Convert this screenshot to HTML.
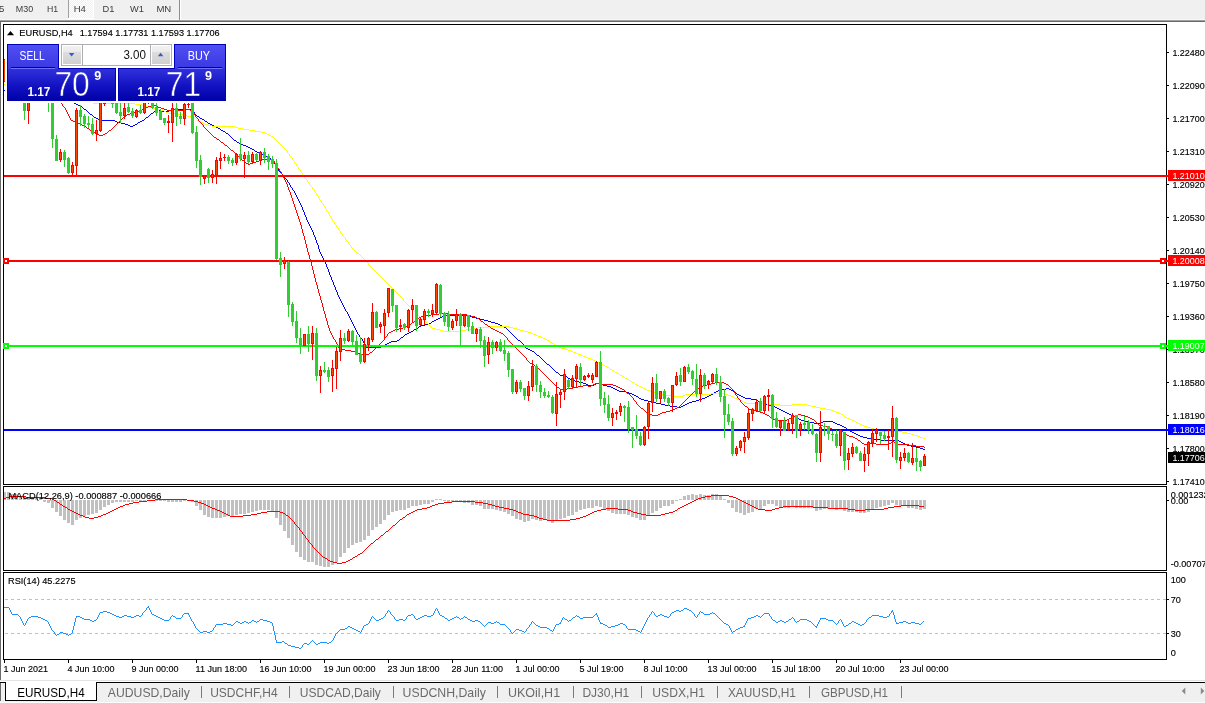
<!DOCTYPE html>
<html><head><meta charset="utf-8"><title>EURUSD,H4</title>
<style>html,body{margin:0;padding:0;background:#fff;overflow:hidden}body{width:1205px;height:703px}svg{display:block;font-family:"Liberation Sans",sans-serif}.cr{shape-rendering:crispEdges}</style></head><body>
<svg width="1205" height="703" viewBox="0 0 1205 703">
<defs><linearGradient id="gp" gradientUnits="userSpaceOnUse" x1="0" y1="68" x2="0" y2="101"><stop offset="0" stop-color="#3232dc"/><stop offset="0.55" stop-color="#1212c2"/><stop offset="1" stop-color="#0000a6"/></linearGradient><linearGradient id="gt" x1="0" y1="0" x2="0" y2="1"><stop offset="0" stop-color="#5050f4"/><stop offset="1" stop-color="#3a38e2"/></linearGradient><linearGradient id="gb" x1="0" y1="0" x2="0" y2="1"><stop offset="0" stop-color="#f2f2f2"/><stop offset="0.3" stop-color="#ebebeb"/><stop offset="0.34" stop-color="#dddddd"/><stop offset="1" stop-color="#d0d0d0"/></linearGradient><pattern id="hatch" width="2" height="2" patternUnits="userSpaceOnUse"><rect width="2" height="2" fill="#f0f0f0"/><rect width="1" height="1" fill="#fff"/><rect x="1" y="1" width="1" height="1" fill="#fff"/></pattern><clipPath id="cm"><rect x="3" y="25" width="1165" height="459"/></clipPath><clipPath id="cma"><rect x="4" y="25" width="1162" height="459"/></clipPath><clipPath id="cd"><rect x="4" y="487" width="1162" height="83"/></clipPath><clipPath id="cs"><rect x="4" y="573" width="1162" height="86"/></clipPath></defs>
<rect x="0" y="0" width="1205" height="703" fill="#ffffff"/>
<g class="cr">
<rect x="0" y="0" width="1205" height="19" fill="#f0f0f0"/>
<rect x="0" y="19" width="1205" height="1" fill="#f8f8f8"/>
<rect x="0" y="20" width="1205" height="1" fill="#a0a0a0"/>
<rect x="0" y="21" width="1205" height="1" fill="#696969"/>
<rect x="69" y="0" width="24" height="18" fill="url(#hatch)"/>
<rect x="68" y="0" width="1" height="18" fill="#a0a0a0"/>
<rect x="93" y="0" width="1" height="19" fill="#ffffff"/>
<rect x="68" y="18" width="26" height="1" fill="#ffffff"/>
<rect x="179" y="0" width="1" height="20" fill="#8f8f8f"/>
<rect x="180" y="0" width="1" height="20" fill="#ffffff"/>
</g>
<text x="-1" y="12" font-size="9.6" fill="#3c3c3c">5</text>
<text x="15.8" y="12" font-size="9.6" fill="#3c3c3c" textLength="17.4" lengthAdjust="spacingAndGlyphs">M30</text>
<text x="46.9" y="12" font-size="9.6" fill="#3c3c3c" textLength="11.2" lengthAdjust="spacingAndGlyphs">H1</text>
<text x="73.7" y="12" font-size="9.6" fill="#3c3c3c" textLength="12.2" lengthAdjust="spacingAndGlyphs">H4</text>
<text x="102.6" y="12" font-size="9.6" fill="#3c3c3c" textLength="11.9" lengthAdjust="spacingAndGlyphs">D1</text>
<text x="129.9" y="12" font-size="9.6" fill="#3c3c3c" textLength="13.9" lengthAdjust="spacingAndGlyphs">W1</text>
<text x="156.4" y="12" font-size="9.6" fill="#3c3c3c" textLength="14.9" lengthAdjust="spacingAndGlyphs">MN</text>
<g class="cr">
<rect x="0" y="21" width="1" height="660" fill="#696969"/>
<rect x="3" y="24" width="1164" height="1" fill="#000"/>
<rect x="3" y="484" width="1164" height="1" fill="#000"/>
<rect x="3" y="24" width="1" height="461" fill="#000"/>
<rect x="3" y="486" width="1164" height="1" fill="#000"/>
<rect x="3" y="570" width="1164" height="1" fill="#000"/>
<rect x="3" y="486" width="1" height="85" fill="#000"/>
<rect x="3" y="572" width="1164" height="1" fill="#000"/>
<rect x="3" y="659" width="1164" height="1" fill="#000"/>
<rect x="3" y="572" width="1" height="88" fill="#000"/>
<rect x="1166" y="24" width="1" height="461" fill="#000"/>
<rect x="1166" y="486" width="1" height="85" fill="#000"/>
<rect x="1166" y="572" width="1" height="88" fill="#000"/>
</g>
<g class="cr" clip-path="url(#cma)">
<path d="M36 84.5h6M26 85.5h10M42 85.5h2M19 86.5h7M44 86.5h3M15 87.5h4M47 87.5h2M11 88.5h4M49 88.5h3M7 89.5h4M52 89.5h2M4 90.5h3M54 90.5h3M57 91.5h2M59 92.5h2M61 93.5h1M62 94.5h2M64 95.5h1M65 96.5h1M66 97.5h2M68 98.5h1M69 99.5h1M70 100.5h1M71 101.5h2M73 102.5h1M74 103.5h2M76 104.5h2M78 105.5h2M80 106.5h2M82 107.5h1M83 108.5h1M84 109.5h2M157 109.5h2M171 109.5h20M86 110.5h1M155 110.5h2M159 110.5h2M169 110.5h2M191 110.5h2M87 111.5h1M154 111.5h1M161 111.5h8M193 111.5h1M88 112.5h1M153 112.5h1M194 112.5h1M89 113.5h1M151 113.5h2M194 113.5h1M90 114.5h2M150 114.5h1M195 114.5h1M92 115.5h1M149 115.5h1M196 115.5h1M93 116.5h1M148 116.5h1M197 116.5h2M94 117.5h2M146 117.5h2M199 117.5h1M96 118.5h2M145 118.5h1M200 118.5h2M98 119.5h4M144 119.5h1M202 119.5h2M102 120.5h13M142 120.5h2M204 120.5h1M115 121.5h2M140 121.5h2M205 121.5h2M117 122.5h4M138 122.5h2M207 122.5h1M121 123.5h4M137 123.5h1M208 123.5h2M125 124.5h3M135 124.5h2M210 124.5h2M128 125.5h2M133 125.5h2M212 125.5h2M130 126.5h3M214 126.5h2M216 127.5h2M218 128.5h2M220 129.5h1M221 130.5h2M223 131.5h2M225 132.5h1M226 133.5h2M228 134.5h1M229 135.5h1M230 136.5h1M231 137.5h1M232 138.5h1M233 139.5h1M234 140.5h2M236 141.5h1M237 142.5h2M239 143.5h2M241 144.5h2M243 145.5h3M246 146.5h2M248 147.5h2M250 148.5h2M252 149.5h2M254 150.5h1M255 151.5h2M257 152.5h2M259 153.5h2M261 154.5h2M263 155.5h3M266 156.5h2M268 157.5h2M270 158.5h1M271 159.5h1M271 160.5h1M272 161.5h1M273 162.5h1M274 163.5h1M275 164.5h1M275 165.5h1M276 166.5h1M276 167.5h1M277 168.5h1M278 169.5h1M278 170.5h1M279 171.5h1M280 172.5h1M281 173.5h1M282 174.5h1M282 175.5h1M283 176.5h1M284 177.5h1M285 178.5h1M286 179.5h1M287 180.5h1M287 181.5h1M288 182.5h1M289 183.5h1M289 184.5h1M290 185.5h1M290 186.5h1M291 187.5h1M292 188.5h1M292 189.5h1M293 190.5h1M294 191.5h1M294 192.5h1M295 193.5h1M295 194.5h1M296 195.5h1M296 196.5h1M297 197.5h1M297 198.5h1M298 199.5h1M298 200.5h1M299 201.5h1M299 202.5h1M300 203.5h1M300 204.5h1M301 205.5h1M301 206.5h1M302 207.5h1M302 208.5h1M302 209.5h1M303 210.5h1M303 211.5h1M304 212.5h1M304 213.5h1M304 214.5h1M305 215.5h1M305 216.5h1M306 217.5h1M306 218.5h1M306 219.5h1M307 220.5h1M307 221.5h1M308 222.5h1M308 223.5h1M309 224.5h1M309 225.5h1M310 226.5h1M310 227.5h1M311 228.5h1M311 229.5h1M312 230.5h1M312 231.5h1M313 232.5h1M313 233.5h1M313 234.5h1M314 235.5h1M314 236.5h1M315 237.5h1M315 238.5h1M315 239.5h1M316 240.5h1M316 241.5h1M316 242.5h1M317 243.5h1M317 244.5h1M318 245.5h1M318 246.5h1M318 247.5h1M318 248.5h1M319 249.5h1M319 250.5h1M319 251.5h1M320 252.5h1M320 253.5h1M321 254.5h1M321 255.5h1M322 256.5h1M322 257.5h1M323 258.5h1M323 259.5h1M324 260.5h1M324 261.5h1M325 262.5h1M325 263.5h1M326 264.5h1M326 265.5h1M326 266.5h1M327 267.5h1M327 268.5h1M328 269.5h1M328 270.5h1M328 271.5h1M329 272.5h1M329 273.5h1M329 274.5h1M330 275.5h1M330 276.5h1M331 277.5h1M331 278.5h1M331 279.5h1M332 280.5h1M332 281.5h1M333 282.5h1M333 283.5h1M333 284.5h1M334 285.5h1M334 286.5h1M335 287.5h1M335 288.5h1M335 289.5h1M336 290.5h1M336 291.5h1M337 292.5h1M337 293.5h1M337 294.5h1M338 295.5h1M338 296.5h1M339 297.5h1M339 298.5h1M340 299.5h1M340 300.5h1M341 301.5h1M341 302.5h1M342 303.5h1M342 304.5h1M343 305.5h1M343 306.5h1M344 307.5h1M344 308.5h1M345 309.5h1M345 310.5h1M346 311.5h1M347 312.5h1M347 313.5h1M348 314.5h1M348 315.5h1M446 315.5h22M349 316.5h1M442 316.5h4M468 316.5h4M349 317.5h1M440 317.5h2M472 317.5h4M350 318.5h1M438 318.5h2M476 318.5h4M350 319.5h1M436 319.5h2M480 319.5h4M351 320.5h1M434 320.5h2M484 320.5h4M351 321.5h1M432 321.5h2M488 321.5h3M352 322.5h1M431 322.5h1M491 322.5h4M352 323.5h1M429 323.5h2M495 323.5h3M353 324.5h1M425 324.5h4M498 324.5h2M353 325.5h1M421 325.5h4M500 325.5h2M354 326.5h1M419 326.5h2M502 326.5h2M354 327.5h1M418 327.5h1M504 327.5h2M355 328.5h1M416 328.5h2M506 328.5h1M355 329.5h1M414 329.5h2M507 329.5h1M356 330.5h1M413 330.5h1M508 330.5h1M356 331.5h1M411 331.5h2M509 331.5h1M357 332.5h1M409 332.5h2M510 332.5h1M357 333.5h1M407 333.5h2M511 333.5h1M358 334.5h1M405 334.5h2M512 334.5h1M359 335.5h1M404 335.5h1M513 335.5h1M359 336.5h1M403 336.5h1M514 336.5h1M360 337.5h1M401 337.5h2M515 337.5h1M361 338.5h1M400 338.5h1M516 338.5h1M362 339.5h1M399 339.5h1M517 339.5h1M362 340.5h1M397 340.5h2M518 340.5h2M363 341.5h1M391 341.5h6M520 341.5h1M363 342.5h1M389 342.5h2M521 342.5h1M364 343.5h1M387 343.5h2M522 343.5h1M364 344.5h1M385 344.5h2M523 344.5h1M365 345.5h1M383 345.5h2M524 345.5h1M365 346.5h1M381 346.5h2M524 346.5h1M366 347.5h15M525 347.5h1M526 348.5h2M528 349.5h2M530 350.5h2M532 351.5h2M534 352.5h1M535 353.5h1M536 354.5h1M537 355.5h2M539 356.5h1M540 357.5h1M541 358.5h1M542 359.5h1M543 360.5h1M544 361.5h1M545 362.5h1M546 363.5h1M547 364.5h2M549 365.5h1M550 366.5h1M551 367.5h1M552 368.5h1M553 369.5h1M554 370.5h1M555 371.5h1M556 372.5h2M558 373.5h1M559 374.5h1M560 375.5h5M565 376.5h2M567 377.5h1M568 378.5h2M570 379.5h2M572 380.5h3M575 381.5h4M579 382.5h4M583 383.5h3M596 383.5h5M586 384.5h2M594 384.5h2M601 384.5h2M588 385.5h6M603 385.5h4M607 386.5h4M611 387.5h2M613 388.5h2M726 388.5h3M615 389.5h2M722 389.5h4M729 389.5h2M617 390.5h2M718 390.5h4M731 390.5h2M619 391.5h7M716 391.5h2M733 391.5h1M626 392.5h3M714 392.5h2M734 392.5h2M629 393.5h3M713 393.5h1M736 393.5h1M632 394.5h2M711 394.5h2M737 394.5h2M634 395.5h2M709 395.5h2M739 395.5h2M636 396.5h2M707 396.5h2M741 396.5h2M638 397.5h1M705 397.5h2M743 397.5h2M639 398.5h2M702 398.5h3M745 398.5h6M641 399.5h3M699 399.5h3M751 399.5h5M644 400.5h4M696 400.5h3M756 400.5h2M648 401.5h4M692 401.5h4M758 401.5h2M652 402.5h4M689 402.5h3M760 402.5h2M656 403.5h5M687 403.5h2M762 403.5h3M661 404.5h4M685 404.5h2M765 404.5h4M665 405.5h5M683 405.5h2M769 405.5h3M670 406.5h7M681 406.5h2M772 406.5h3M677 407.5h4M775 407.5h2M777 408.5h2M779 409.5h2M781 410.5h2M783 411.5h2M785 412.5h2M787 413.5h2M789 414.5h2M791 415.5h2M793 416.5h2M795 417.5h2M797 418.5h2M799 419.5h2M801 420.5h3M804 421.5h4M823 421.5h10M808 422.5h6M820 422.5h3M833 422.5h2M814 423.5h6M835 423.5h2M837 424.5h3M840 425.5h2M842 426.5h2M844 427.5h2M846 428.5h1M847 429.5h2M849 430.5h1M850 431.5h2M852 432.5h2M854 433.5h2M856 434.5h2M858 435.5h2M860 436.5h3M863 437.5h4M867 438.5h6M873 439.5h7M880 440.5h19M899 441.5h2M901 442.5h2M903 443.5h2M905 444.5h2M907 445.5h4M911 446.5h5M916 447.5h4M920 448.5h3M923 449.5h2" fill="none" stroke="#0000ff" stroke-width="1"/>
<path d="M4 84.5h4M8 85.5h6M14 86.5h7M21 87.5h6M27 88.5h5M32 89.5h4M36 90.5h4M40 91.5h4M44 92.5h3M47 93.5h4M51 94.5h4M55 95.5h4M59 96.5h4M63 97.5h5M68 98.5h5M73 99.5h5M78 100.5h5M83 101.5h5M88 102.5h5M93 103.5h42M135 104.5h7M142 105.5h4M146 106.5h4M150 107.5h3M153 108.5h3M156 109.5h5M161 110.5h3M164 111.5h2M166 112.5h2M168 113.5h8M176 114.5h9M185 115.5h2M187 116.5h6M193 117.5h2M195 118.5h1M196 119.5h1M197 120.5h2M199 121.5h2M201 122.5h2M203 123.5h2M205 124.5h3M208 125.5h4M212 126.5h23M235 127.5h3M238 128.5h5M243 129.5h6M249 130.5h6M255 131.5h6M261 132.5h4M265 133.5h2M267 134.5h2M269 135.5h2M271 136.5h2M273 137.5h1M274 138.5h1M275 139.5h1M276 140.5h1M277 141.5h1M278 142.5h1M279 143.5h1M280 144.5h1M281 145.5h1M282 146.5h1M283 147.5h1M284 148.5h1M285 149.5h1M286 150.5h1M287 151.5h1M287 152.5h1M288 153.5h1M289 154.5h1M289 155.5h1M290 156.5h1M291 157.5h1M292 158.5h1M292 159.5h1M293 160.5h1M294 161.5h1M294 162.5h1M295 163.5h1M296 164.5h1M296 165.5h1M297 166.5h1M298 167.5h1M298 168.5h1M299 169.5h1M300 170.5h1M300 171.5h1M301 172.5h1M302 173.5h1M302 174.5h1M303 175.5h1M304 176.5h1M304 177.5h1M305 178.5h1M306 179.5h1M307 180.5h1M307 181.5h1M308 182.5h1M309 183.5h1M309 184.5h1M310 185.5h1M311 186.5h1M312 187.5h1M312 188.5h1M313 189.5h1M314 190.5h1M314 191.5h1M315 192.5h1M316 193.5h1M316 194.5h1M317 195.5h1M318 196.5h1M318 197.5h1M319 198.5h1M319 199.5h1M320 200.5h1M321 201.5h1M321 202.5h1M322 203.5h1M323 204.5h1M323 205.5h1M324 206.5h1M325 207.5h1M325 208.5h1M326 209.5h1M326 210.5h1M327 211.5h1M328 212.5h1M328 213.5h1M329 214.5h1M329 215.5h1M330 216.5h1M331 217.5h1M331 218.5h1M332 219.5h1M332 220.5h1M333 221.5h1M334 222.5h1M334 223.5h1M335 224.5h1M336 225.5h1M336 226.5h1M337 227.5h1M338 228.5h1M338 229.5h1M339 230.5h1M340 231.5h1M340 232.5h1M341 233.5h1M342 234.5h1M342 235.5h1M343 236.5h1M344 237.5h1M345 238.5h1M345 239.5h1M346 240.5h1M347 241.5h1M348 242.5h1M348 243.5h1M349 244.5h1M350 245.5h1M351 246.5h1M351 247.5h1M352 248.5h1M353 249.5h1M354 250.5h1M355 251.5h1M356 252.5h1M357 253.5h2M359 254.5h1M360 255.5h1M361 256.5h1M362 257.5h1M363 258.5h1M364 259.5h1M365 260.5h1M366 261.5h1M367 262.5h1M368 263.5h1M368 264.5h1M369 265.5h1M370 266.5h1M371 267.5h1M372 268.5h1M373 269.5h1M374 270.5h1M375 271.5h1M376 272.5h1M377 273.5h1M378 274.5h1M379 275.5h1M380 276.5h1M381 277.5h1M382 278.5h1M383 279.5h1M384 280.5h1M385 281.5h1M386 282.5h1M387 283.5h1M388 284.5h1M389 285.5h1M390 286.5h1M391 287.5h1M392 288.5h1M393 289.5h1M394 290.5h1M395 291.5h1M396 292.5h1M397 293.5h1M398 294.5h1M399 295.5h1M400 296.5h1M401 297.5h1M402 298.5h1M403 299.5h1M403 300.5h1M404 301.5h1M405 302.5h1M406 303.5h1M407 304.5h1M408 305.5h1M409 306.5h1M410 307.5h1M411 308.5h1M412 309.5h1M413 310.5h1M414 311.5h1M415 312.5h1M416 313.5h1M417 314.5h1M418 315.5h1M419 316.5h1M420 317.5h1M421 318.5h1M422 319.5h1M423 320.5h2M425 321.5h1M426 322.5h1M427 323.5h1M428 324.5h1M429 325.5h1M430 326.5h1M488 326.5h21M431 327.5h1M478 327.5h10M509 327.5h4M432 328.5h4M472 328.5h6M513 328.5h4M436 329.5h4M466 329.5h6M517 329.5h3M440 330.5h3M460 330.5h6M520 330.5h4M443 331.5h17M524 331.5h4M528 332.5h3M531 333.5h2M533 334.5h3M536 335.5h2M538 336.5h3M541 337.5h2M543 338.5h2M545 339.5h2M547 340.5h2M549 341.5h1M550 342.5h2M552 343.5h2M554 344.5h1M555 345.5h2M557 346.5h2M559 347.5h2M561 348.5h4M565 349.5h3M568 350.5h3M571 351.5h2M573 352.5h3M576 353.5h2M578 354.5h3M581 355.5h2M583 356.5h3M586 357.5h2M588 358.5h3M591 359.5h2M593 360.5h2M595 361.5h2M597 362.5h2M599 363.5h2M601 364.5h2M603 365.5h2M605 366.5h2M607 367.5h2M609 368.5h1M610 369.5h2M612 370.5h2M614 371.5h1M615 372.5h2M617 373.5h2M619 374.5h1M620 375.5h2M622 376.5h2M624 377.5h1M625 378.5h2M627 379.5h2M629 380.5h1M630 381.5h2M632 382.5h2M634 383.5h1M635 384.5h2M637 385.5h2M639 386.5h2M641 387.5h2M643 388.5h2M645 389.5h2M647 390.5h3M650 391.5h3M653 392.5h2M655 393.5h4M711 393.5h13M659 394.5h5M685 394.5h26M724 394.5h4M664 395.5h7M683 395.5h2M728 395.5h3M671 396.5h12M731 396.5h2M733 397.5h2M735 398.5h2M737 399.5h3M740 400.5h2M742 401.5h2M744 402.5h2M746 403.5h21M767 404.5h13M792 404.5h15M780 405.5h12M807 405.5h4M811 406.5h5M816 407.5h4M820 408.5h6M826 409.5h5M831 410.5h3M834 411.5h2M836 412.5h3M839 413.5h2M841 414.5h2M843 415.5h1M844 416.5h1M845 417.5h2M847 418.5h2M849 419.5h3M852 420.5h2M854 421.5h2M856 422.5h2M858 423.5h2M860 424.5h2M862 425.5h2M864 426.5h3M867 427.5h4M871 428.5h3M874 429.5h3M877 430.5h3M880 431.5h22M902 432.5h5M907 433.5h4M911 434.5h3M914 435.5h3M917 436.5h3M920 437.5h3M923 438.5h2" fill="none" stroke="#ffff00" stroke-width="1"/>
<path d="M4 70.5h3M7 71.5h4M11 72.5h4M15 73.5h4M19 74.5h3M22 75.5h4M26 76.5h3M29 77.5h3M32 78.5h4M36 79.5h3M39 80.5h2M41 81.5h1M42 82.5h2M44 83.5h1M45 84.5h1M46 85.5h1M47 86.5h2M49 87.5h1M50 88.5h1M51 89.5h1M52 90.5h2M54 91.5h1M55 92.5h1M56 93.5h1M56 94.5h1M57 95.5h1M57 96.5h1M58 97.5h1M58 98.5h1M59 99.5h1M59 100.5h1M60 101.5h1M60 102.5h1M61 103.5h1M62 104.5h1M62 105.5h1M152 105.5h4M63 106.5h1M148 106.5h4M156 106.5h2M64 107.5h1M146 107.5h2M158 107.5h3M65 108.5h1M144 108.5h2M161 108.5h3M65 109.5h1M142 109.5h2M164 109.5h3M171 109.5h5M184 109.5h6M66 110.5h1M139 110.5h3M167 110.5h4M176 110.5h8M190 110.5h2M66 111.5h1M136 111.5h3M192 111.5h1M67 112.5h1M134 112.5h2M193 112.5h1M67 113.5h1M130 113.5h4M194 113.5h1M68 114.5h1M127 114.5h3M194 114.5h1M68 115.5h1M126 115.5h1M195 115.5h1M69 116.5h1M124 116.5h2M195 116.5h1M69 117.5h1M123 117.5h1M196 117.5h1M70 118.5h1M122 118.5h1M197 118.5h1M70 119.5h1M121 119.5h1M198 119.5h1M71 120.5h2M120 120.5h1M198 120.5h1M73 121.5h2M119 121.5h1M199 121.5h1M75 122.5h3M118 122.5h1M200 122.5h1M78 123.5h2M117 123.5h1M201 123.5h1M80 124.5h2M116 124.5h1M202 124.5h1M82 125.5h2M115 125.5h1M203 125.5h1M84 126.5h2M114 126.5h1M203 126.5h1M86 127.5h1M113 127.5h1M204 127.5h1M87 128.5h2M112 128.5h1M205 128.5h1M89 129.5h1M111 129.5h1M206 129.5h1M90 130.5h2M109 130.5h2M207 130.5h1M92 131.5h2M108 131.5h1M208 131.5h1M94 132.5h1M107 132.5h1M209 132.5h1M95 133.5h1M105 133.5h2M210 133.5h1M96 134.5h3M103 134.5h2M211 134.5h1M99 135.5h4M212 135.5h1M213 136.5h1M214 137.5h2M216 138.5h1M217 139.5h2M219 140.5h1M220 141.5h1M221 142.5h2M223 143.5h1M224 144.5h1M225 145.5h2M227 146.5h1M228 147.5h1M229 148.5h1M230 149.5h1M231 150.5h2M233 151.5h1M234 152.5h1M235 153.5h1M236 154.5h1M237 155.5h1M238 156.5h1M239 157.5h1M240 158.5h1M267 158.5h3M241 159.5h1M262 159.5h5M270 159.5h2M242 160.5h2M259 160.5h3M272 160.5h2M244 161.5h1M256 161.5h3M274 161.5h1M245 162.5h1M253 162.5h3M274 162.5h1M246 163.5h2M250 163.5h3M275 163.5h1M248 164.5h2M275 164.5h1M276 165.5h1M277 166.5h1M277 167.5h1M278 168.5h1M279 169.5h1M279 170.5h1M280 171.5h1M281 172.5h1M281 173.5h1M282 174.5h1M282 175.5h1M283 176.5h1M283 177.5h1M284 178.5h1M284 179.5h1M285 180.5h1M285 181.5h1M286 182.5h1M286 183.5h1M287 184.5h1M287 185.5h1M287 186.5h1M288 187.5h1M288 188.5h1M288 189.5h1M289 190.5h1M289 191.5h1M290 192.5h1M290 193.5h1M290 194.5h1M291 195.5h1M291 196.5h1M291 197.5h1M292 198.5h1M292 199.5h1M292 200.5h1M293 201.5h1M293 202.5h1M293 203.5h1M294 204.5h1M294 205.5h1M294 206.5h1M295 207.5h1M295 208.5h1M295 209.5h1M296 210.5h1M296 211.5h1M296 212.5h1M297 213.5h1M297 214.5h1M297 215.5h1M298 216.5h1M298 217.5h1M298 218.5h1M299 219.5h1M299 220.5h1M299 221.5h1M300 222.5h1M300 223.5h1M300 224.5h1M301 225.5h1M301 226.5h1M301 227.5h1M301 228.5h1M302 229.5h1M302 230.5h1M302 231.5h1M302 232.5h1M303 233.5h1M303 234.5h1M303 235.5h1M304 236.5h1M304 237.5h1M304 238.5h1M304 239.5h1M305 240.5h1M305 241.5h1M305 242.5h1M305 243.5h1M306 244.5h1M306 245.5h1M306 246.5h1M306 247.5h1M307 248.5h1M307 249.5h1M307 250.5h1M307 251.5h1M308 252.5h1M308 253.5h1M308 254.5h1M309 255.5h1M309 256.5h1M309 257.5h1M309 258.5h1M310 259.5h1M310 260.5h1M310 261.5h1M311 262.5h1M311 263.5h1M311 264.5h1M311 265.5h1M312 266.5h1M312 267.5h1M312 268.5h1M312 269.5h1M313 270.5h1M313 271.5h1M313 272.5h1M313 273.5h1M314 274.5h1M314 275.5h1M314 276.5h1M314 277.5h1M315 278.5h1M315 279.5h1M315 280.5h1M315 281.5h1M316 282.5h1M316 283.5h1M316 284.5h1M317 285.5h1M317 286.5h1M317 287.5h1M317 288.5h1M318 289.5h1M318 290.5h1M318 291.5h1M318 292.5h1M319 293.5h1M319 294.5h1M319 295.5h1M320 296.5h1M320 297.5h1M320 298.5h1M320 299.5h1M321 300.5h1M321 301.5h1M321 302.5h1M322 303.5h1M322 304.5h1M322 305.5h1M322 306.5h1M323 307.5h1M323 308.5h1M323 309.5h1M323 310.5h1M324 311.5h1M324 312.5h1M324 313.5h1M439 313.5h9M325 314.5h1M431 314.5h8M448 314.5h19M325 315.5h1M425 315.5h6M467 315.5h4M325 316.5h1M421 316.5h4M471 316.5h4M325 317.5h1M419 317.5h2M475 317.5h2M326 318.5h1M418 318.5h1M477 318.5h2M326 319.5h1M416 319.5h2M479 319.5h1M326 320.5h1M415 320.5h1M480 320.5h1M327 321.5h1M414 321.5h1M481 321.5h2M327 322.5h1M412 322.5h2M483 322.5h1M327 323.5h1M411 323.5h1M484 323.5h1M327 324.5h1M409 324.5h2M485 324.5h2M328 325.5h1M407 325.5h2M487 325.5h1M328 326.5h1M405 326.5h2M488 326.5h2M328 327.5h1M403 327.5h2M490 327.5h1M329 328.5h1M399 328.5h4M491 328.5h2M329 329.5h1M395 329.5h4M493 329.5h2M329 330.5h1M393 330.5h2M495 330.5h2M330 331.5h1M391 331.5h2M497 331.5h2M330 332.5h1M389 332.5h2M499 332.5h2M331 333.5h1M388 333.5h1M501 333.5h2M331 334.5h1M387 334.5h1M503 334.5h1M332 335.5h1M387 335.5h1M504 335.5h1M332 336.5h1M386 336.5h1M505 336.5h1M333 337.5h1M385 337.5h1M506 337.5h1M333 338.5h1M384 338.5h1M507 338.5h1M334 339.5h1M384 339.5h1M507 339.5h1M335 340.5h1M383 340.5h1M508 340.5h1M335 341.5h1M382 341.5h1M509 341.5h1M336 342.5h1M381 342.5h1M510 342.5h1M336 343.5h1M380 343.5h1M511 343.5h1M337 344.5h1M379 344.5h1M512 344.5h1M337 345.5h1M378 345.5h1M513 345.5h1M338 346.5h1M377 346.5h1M514 346.5h1M338 347.5h1M376 347.5h1M515 347.5h1M339 348.5h2M375 348.5h1M516 348.5h1M341 349.5h4M374 349.5h1M517 349.5h1M345 350.5h6M373 350.5h1M518 350.5h1M351 351.5h5M372 351.5h1M519 351.5h1M356 352.5h2M370 352.5h2M520 352.5h1M358 353.5h2M369 353.5h1M521 353.5h1M360 354.5h9M522 354.5h1M523 355.5h1M524 356.5h1M525 357.5h1M526 358.5h1M526 359.5h1M527 360.5h1M528 361.5h1M529 362.5h1M530 363.5h2M532 364.5h2M534 365.5h1M535 366.5h2M537 367.5h1M538 368.5h1M539 369.5h1M540 370.5h1M541 371.5h1M542 372.5h1M543 373.5h1M544 374.5h1M545 375.5h1M546 376.5h1M547 377.5h1M548 378.5h1M549 379.5h1M550 380.5h1M551 381.5h1M552 382.5h1M715 382.5h9M553 383.5h1M595 383.5h6M711 383.5h4M724 383.5h2M554 384.5h1M593 384.5h2M601 384.5h12M707 384.5h4M726 384.5h2M555 385.5h1M583 385.5h5M591 385.5h2M613 385.5h3M703 385.5h4M728 385.5h1M556 386.5h1M578 386.5h5M588 386.5h3M616 386.5h2M701 386.5h2M729 386.5h1M557 387.5h2M573 387.5h5M618 387.5h2M699 387.5h2M730 387.5h1M559 388.5h1M567 388.5h6M620 388.5h2M698 388.5h1M731 388.5h1M560 389.5h7M622 389.5h2M696 389.5h2M732 389.5h1M624 390.5h1M695 390.5h1M733 390.5h1M625 391.5h1M694 391.5h1M734 391.5h1M626 392.5h1M693 392.5h1M734 392.5h1M627 393.5h2M692 393.5h1M735 393.5h1M629 394.5h1M691 394.5h1M735 394.5h1M630 395.5h1M690 395.5h1M736 395.5h1M631 396.5h1M689 396.5h1M737 396.5h1M632 397.5h1M688 397.5h1M737 397.5h1M633 398.5h1M687 398.5h1M738 398.5h1M633 399.5h1M686 399.5h1M739 399.5h1M634 400.5h1M685 400.5h1M740 400.5h1M635 401.5h1M684 401.5h1M740 401.5h1M636 402.5h1M683 402.5h1M741 402.5h1M636 403.5h1M682 403.5h1M742 403.5h1M637 404.5h1M681 404.5h1M743 404.5h1M638 405.5h1M680 405.5h1M744 405.5h1M639 406.5h1M679 406.5h1M745 406.5h2M640 407.5h1M677 407.5h2M747 407.5h1M641 408.5h2M675 408.5h2M748 408.5h1M643 409.5h1M673 409.5h2M749 409.5h3M644 410.5h1M670 410.5h3M752 410.5h4M645 411.5h1M666 411.5h4M756 411.5h4M646 412.5h2M662 412.5h4M760 412.5h3M648 413.5h2M660 413.5h2M763 413.5h2M650 414.5h2M658 414.5h2M765 414.5h2M798 414.5h3M652 415.5h6M767 415.5h2M795 415.5h3M801 415.5h4M769 416.5h1M793 416.5h2M805 416.5h3M770 417.5h1M791 417.5h2M808 417.5h2M771 418.5h2M789 418.5h2M810 418.5h2M773 419.5h3M787 419.5h2M812 419.5h2M776 420.5h11M814 420.5h1M815 421.5h1M816 422.5h1M817 423.5h1M818 424.5h1M819 425.5h4M823 426.5h5M828 427.5h2M830 428.5h2M832 429.5h5M837 430.5h4M841 431.5h2M843 432.5h1M844 433.5h1M845 434.5h2M847 435.5h2M849 436.5h4M853 437.5h2M855 438.5h2M857 439.5h1M858 440.5h2M860 441.5h1M893 441.5h1M861 442.5h1M891 442.5h2M894 442.5h2M862 443.5h2M868 443.5h8M889 443.5h2M896 443.5h2M864 444.5h4M876 444.5h13M898 444.5h11M909 445.5h7M916 446.5h8M924 447.5h1" fill="none" stroke="#ff0000" stroke-width="1"/>
</g>
<g class="cr" clip-path="url(#cm)">
<rect x="4" y="175" width="1164" height="2" fill="#ff0000"/>
<rect x="4" y="260" width="1164" height="2" fill="#ff0000"/>
<rect x="4" y="345" width="1164" height="2" fill="#00ff00"/>
<rect x="4" y="429" width="1164" height="2" fill="#0000ff"/>
<rect x="3" y="258" width="6" height="6" fill="#ff0000"/>
<rect x="5" y="260" width="2" height="2" fill="#ffffff"/>
<rect x="1160" y="258" width="6" height="6" fill="#ff0000"/>
<rect x="1162" y="260" width="2" height="2" fill="#ffffff"/>
<rect x="3" y="343" width="6" height="6" fill="#00ff00"/>
<rect x="5" y="345" width="2" height="2" fill="#ffffff"/>
<rect x="1160" y="343" width="6" height="6" fill="#00ff00"/>
<rect x="1162" y="345" width="2" height="2" fill="#ffffff"/>
</g>
<g class="cr" clip-path="url(#cma)">
<rect x="4" y="59" width="1" height="23" fill="#ff0000"/>
<rect x="3" y="59" width="3" height="23" fill="#ff0000"/>
<rect x="4" y="60" width="1" height="21" fill="#ff4500"/>
<rect x="8" y="60" width="1" height="26" fill="#32cd32"/>
<rect x="7" y="64" width="3" height="16" fill="#32cd32"/>
<rect x="12" y="62" width="1" height="22" fill="#ff0000"/>
<rect x="11" y="66" width="3" height="12" fill="#ff0000"/>
<rect x="12" y="67" width="1" height="10" fill="#ff4500"/>
<rect x="16" y="64" width="1" height="28" fill="#32cd32"/>
<rect x="15" y="68" width="3" height="16" fill="#32cd32"/>
<rect x="20" y="70" width="1" height="26" fill="#ff0000"/>
<rect x="19" y="74" width="3" height="16" fill="#ff0000"/>
<rect x="20" y="75" width="1" height="14" fill="#ff4500"/>
<rect x="24" y="80" width="1" height="40" fill="#32cd32"/>
<rect x="23" y="84" width="3" height="27" fill="#32cd32"/>
<rect x="28" y="82" width="1" height="42" fill="#ff0000"/>
<rect x="27" y="86" width="3" height="25" fill="#ff0000"/>
<rect x="28" y="87" width="1" height="23" fill="#ff4500"/>
<rect x="32" y="70" width="1" height="28" fill="#ff0000"/>
<rect x="31" y="74" width="3" height="18" fill="#ff0000"/>
<rect x="32" y="75" width="1" height="16" fill="#ff4500"/>
<rect x="36" y="66" width="1" height="28" fill="#32cd32"/>
<rect x="35" y="70" width="3" height="16" fill="#32cd32"/>
<rect x="40" y="62" width="1" height="28" fill="#ff0000"/>
<rect x="39" y="66" width="3" height="18" fill="#ff0000"/>
<rect x="40" y="67" width="1" height="16" fill="#ff4500"/>
<rect x="44" y="64" width="1" height="34" fill="#32cd32"/>
<rect x="43" y="68" width="3" height="22" fill="#32cd32"/>
<rect x="48" y="70" width="1" height="42" fill="#32cd32"/>
<rect x="47" y="76" width="3" height="22" fill="#32cd32"/>
<rect x="52" y="90" width="1" height="58" fill="#32cd32"/>
<rect x="51" y="95" width="3" height="44" fill="#32cd32"/>
<rect x="56" y="135" width="1" height="26" fill="#32cd32"/>
<rect x="55" y="139" width="3" height="22" fill="#32cd32"/>
<rect x="60" y="149" width="1" height="13" fill="#ff0000"/>
<rect x="59" y="152" width="3" height="8" fill="#ff0000"/>
<rect x="60" y="153" width="1" height="6" fill="#ff4500"/>
<rect x="64" y="150" width="1" height="17" fill="#32cd32"/>
<rect x="63" y="152" width="3" height="8" fill="#32cd32"/>
<rect x="68" y="157" width="1" height="17" fill="#32cd32"/>
<rect x="67" y="158" width="3" height="15" fill="#32cd32"/>
<rect x="72" y="162" width="1" height="13" fill="#ff0000"/>
<rect x="71" y="165" width="3" height="8" fill="#ff0000"/>
<rect x="72" y="166" width="1" height="6" fill="#ff4500"/>
<rect x="76" y="108" width="1" height="67" fill="#ff0000"/>
<rect x="75" y="110" width="3" height="56" fill="#ff0000"/>
<rect x="76" y="111" width="1" height="54" fill="#ff4500"/>
<rect x="80" y="105" width="1" height="21" fill="#32cd32"/>
<rect x="79" y="110" width="3" height="7" fill="#32cd32"/>
<rect x="84" y="114" width="1" height="14" fill="#32cd32"/>
<rect x="83" y="116" width="3" height="8" fill="#32cd32"/>
<rect x="88" y="116" width="1" height="12" fill="#32cd32"/>
<rect x="87" y="123" width="3" height="2" fill="#32cd32"/>
<rect x="92" y="118" width="1" height="17" fill="#32cd32"/>
<rect x="91" y="124" width="3" height="10" fill="#32cd32"/>
<rect x="96" y="120" width="1" height="21" fill="#ff0000"/>
<rect x="95" y="130" width="3" height="4" fill="#ff0000"/>
<rect x="96" y="131" width="1" height="2" fill="#ff4500"/>
<rect x="100" y="90" width="1" height="42" fill="#ff0000"/>
<rect x="99" y="94" width="3" height="37" fill="#ff0000"/>
<rect x="100" y="95" width="1" height="35" fill="#ff4500"/>
<rect x="104" y="86" width="1" height="20" fill="#ff0000"/>
<rect x="103" y="90" width="3" height="14" fill="#ff0000"/>
<rect x="104" y="91" width="1" height="12" fill="#ff4500"/>
<rect x="108" y="84" width="1" height="17" fill="#32cd32"/>
<rect x="107" y="88" width="3" height="10" fill="#32cd32"/>
<rect x="112" y="86" width="1" height="22" fill="#32cd32"/>
<rect x="111" y="90" width="3" height="14" fill="#32cd32"/>
<rect x="116" y="88" width="1" height="26" fill="#32cd32"/>
<rect x="115" y="92" width="3" height="21" fill="#32cd32"/>
<rect x="120" y="100" width="1" height="23" fill="#32cd32"/>
<rect x="119" y="112" width="3" height="4" fill="#32cd32"/>
<rect x="124" y="98" width="1" height="21" fill="#ff0000"/>
<rect x="123" y="108" width="3" height="8" fill="#ff0000"/>
<rect x="124" y="109" width="1" height="6" fill="#ff4500"/>
<rect x="128" y="99" width="1" height="14" fill="#32cd32"/>
<rect x="127" y="107" width="3" height="5" fill="#32cd32"/>
<rect x="132" y="108" width="1" height="10" fill="#32cd32"/>
<rect x="131" y="111" width="3" height="5" fill="#32cd32"/>
<rect x="136" y="109" width="1" height="9" fill="#ff0000"/>
<rect x="135" y="110" width="3" height="7" fill="#ff0000"/>
<rect x="136" y="111" width="1" height="5" fill="#ff4500"/>
<rect x="140" y="105" width="1" height="9" fill="#32cd32"/>
<rect x="139" y="110" width="3" height="3" fill="#32cd32"/>
<rect x="144" y="92" width="1" height="22" fill="#ff0000"/>
<rect x="143" y="96" width="3" height="17" fill="#ff0000"/>
<rect x="144" y="97" width="1" height="15" fill="#ff4500"/>
<rect x="148" y="88" width="1" height="16" fill="#ff0000"/>
<rect x="147" y="92" width="3" height="10" fill="#ff0000"/>
<rect x="148" y="93" width="1" height="8" fill="#ff4500"/>
<rect x="152" y="90" width="1" height="19" fill="#32cd32"/>
<rect x="151" y="94" width="3" height="14" fill="#32cd32"/>
<rect x="156" y="101" width="1" height="15" fill="#32cd32"/>
<rect x="155" y="107" width="3" height="6" fill="#32cd32"/>
<rect x="160" y="109" width="1" height="11" fill="#32cd32"/>
<rect x="159" y="111" width="3" height="9" fill="#32cd32"/>
<rect x="164" y="118" width="1" height="7" fill="#32cd32"/>
<rect x="163" y="118" width="3" height="5" fill="#32cd32"/>
<rect x="168" y="115" width="1" height="18" fill="#ff0000"/>
<rect x="167" y="121" width="3" height="2" fill="#ff0000"/>
<rect x="172" y="96" width="1" height="46" fill="#ff0000"/>
<rect x="171" y="108" width="3" height="15" fill="#ff0000"/>
<rect x="172" y="109" width="1" height="13" fill="#ff4500"/>
<rect x="176" y="96" width="1" height="30" fill="#32cd32"/>
<rect x="175" y="108" width="3" height="9" fill="#32cd32"/>
<rect x="180" y="112" width="1" height="12" fill="#32cd32"/>
<rect x="179" y="116" width="3" height="3" fill="#32cd32"/>
<rect x="184" y="98" width="1" height="27" fill="#ff0000"/>
<rect x="183" y="104" width="3" height="15" fill="#ff0000"/>
<rect x="184" y="105" width="1" height="13" fill="#ff4500"/>
<rect x="188" y="98" width="1" height="10" fill="#ff0000"/>
<rect x="187" y="104" width="3" height="1" fill="#ff0000"/>
<rect x="192" y="96" width="1" height="38" fill="#32cd32"/>
<rect x="191" y="100" width="3" height="33" fill="#32cd32"/>
<rect x="196" y="126" width="1" height="42" fill="#32cd32"/>
<rect x="195" y="132" width="3" height="29" fill="#32cd32"/>
<rect x="200" y="155" width="1" height="30" fill="#32cd32"/>
<rect x="199" y="160" width="3" height="17" fill="#32cd32"/>
<rect x="204" y="176" width="1" height="8" fill="#ff0000"/>
<rect x="203" y="176" width="3" height="3" fill="#ff0000"/>
<rect x="204" y="177" width="1" height="1" fill="#ff4500"/>
<rect x="208" y="168" width="1" height="15" fill="#32cd32"/>
<rect x="207" y="169" width="3" height="9" fill="#32cd32"/>
<rect x="212" y="170" width="1" height="13" fill="#ff0000"/>
<rect x="211" y="174" width="3" height="4" fill="#ff0000"/>
<rect x="212" y="175" width="1" height="2" fill="#ff4500"/>
<rect x="216" y="157" width="1" height="27" fill="#ff0000"/>
<rect x="215" y="160" width="3" height="16" fill="#ff0000"/>
<rect x="216" y="161" width="1" height="14" fill="#ff4500"/>
<rect x="220" y="152" width="1" height="17" fill="#ff0000"/>
<rect x="219" y="158" width="3" height="3" fill="#ff0000"/>
<rect x="220" y="159" width="1" height="1" fill="#ff4500"/>
<rect x="224" y="154" width="1" height="7" fill="#ff0000"/>
<rect x="223" y="157" width="3" height="1" fill="#ff0000"/>
<rect x="228" y="155" width="1" height="9" fill="#32cd32"/>
<rect x="227" y="157" width="3" height="4" fill="#32cd32"/>
<rect x="232" y="158" width="1" height="8" fill="#32cd32"/>
<rect x="231" y="160" width="3" height="3" fill="#32cd32"/>
<rect x="236" y="153" width="1" height="12" fill="#ff0000"/>
<rect x="235" y="154" width="3" height="9" fill="#ff0000"/>
<rect x="236" y="155" width="1" height="7" fill="#ff4500"/>
<rect x="240" y="138" width="1" height="23" fill="#32cd32"/>
<rect x="239" y="154" width="3" height="5" fill="#32cd32"/>
<rect x="244" y="152" width="1" height="26" fill="#ff0000"/>
<rect x="243" y="155" width="3" height="4" fill="#ff0000"/>
<rect x="244" y="156" width="1" height="2" fill="#ff4500"/>
<rect x="248" y="151" width="1" height="13" fill="#32cd32"/>
<rect x="247" y="155" width="3" height="7" fill="#32cd32"/>
<rect x="252" y="152" width="1" height="11" fill="#ff0000"/>
<rect x="251" y="154" width="3" height="8" fill="#ff0000"/>
<rect x="252" y="155" width="1" height="6" fill="#ff4500"/>
<rect x="256" y="153" width="1" height="8" fill="#32cd32"/>
<rect x="255" y="154" width="3" height="6" fill="#32cd32"/>
<rect x="260" y="151" width="1" height="14" fill="#ff0000"/>
<rect x="259" y="152" width="3" height="9" fill="#ff0000"/>
<rect x="260" y="153" width="1" height="7" fill="#ff4500"/>
<rect x="264" y="148" width="1" height="15" fill="#32cd32"/>
<rect x="263" y="152" width="3" height="6" fill="#32cd32"/>
<rect x="268" y="154" width="1" height="16" fill="#32cd32"/>
<rect x="267" y="156" width="3" height="6" fill="#32cd32"/>
<rect x="272" y="156" width="1" height="12" fill="#32cd32"/>
<rect x="271" y="159" width="3" height="5" fill="#32cd32"/>
<rect x="276" y="159" width="1" height="101" fill="#32cd32"/>
<rect x="275" y="163" width="3" height="96" fill="#32cd32"/>
<rect x="280" y="252" width="1" height="25" fill="#32cd32"/>
<rect x="279" y="258" width="3" height="7" fill="#32cd32"/>
<rect x="284" y="257" width="1" height="12" fill="#ff0000"/>
<rect x="283" y="260" width="3" height="4" fill="#ff0000"/>
<rect x="284" y="261" width="1" height="2" fill="#ff4500"/>
<rect x="288" y="261" width="1" height="56" fill="#32cd32"/>
<rect x="287" y="262" width="3" height="43" fill="#32cd32"/>
<rect x="292" y="302" width="1" height="24" fill="#32cd32"/>
<rect x="291" y="304" width="3" height="18" fill="#32cd32"/>
<rect x="296" y="311" width="1" height="32" fill="#32cd32"/>
<rect x="295" y="321" width="3" height="17" fill="#32cd32"/>
<rect x="300" y="328" width="1" height="26" fill="#32cd32"/>
<rect x="299" y="338" width="3" height="8" fill="#32cd32"/>
<rect x="304" y="334" width="1" height="12" fill="#ff0000"/>
<rect x="303" y="334" width="3" height="12" fill="#ff0000"/>
<rect x="304" y="335" width="1" height="10" fill="#ff4500"/>
<rect x="308" y="326" width="1" height="26" fill="#32cd32"/>
<rect x="307" y="334" width="3" height="10" fill="#32cd32"/>
<rect x="312" y="326" width="1" height="34" fill="#ff0000"/>
<rect x="311" y="333" width="3" height="11" fill="#ff0000"/>
<rect x="312" y="334" width="1" height="9" fill="#ff4500"/>
<rect x="316" y="328" width="1" height="53" fill="#32cd32"/>
<rect x="315" y="333" width="3" height="43" fill="#32cd32"/>
<rect x="320" y="366" width="1" height="27" fill="#ff0000"/>
<rect x="319" y="370" width="3" height="6" fill="#ff0000"/>
<rect x="320" y="371" width="1" height="4" fill="#ff4500"/>
<rect x="324" y="362" width="1" height="11" fill="#32cd32"/>
<rect x="323" y="370" width="3" height="2" fill="#32cd32"/>
<rect x="328" y="367" width="1" height="15" fill="#32cd32"/>
<rect x="327" y="370" width="3" height="7" fill="#32cd32"/>
<rect x="332" y="360" width="1" height="32" fill="#ff0000"/>
<rect x="331" y="368" width="3" height="8" fill="#ff0000"/>
<rect x="332" y="369" width="1" height="6" fill="#ff4500"/>
<rect x="336" y="347" width="1" height="42" fill="#ff0000"/>
<rect x="335" y="351" width="3" height="18" fill="#ff0000"/>
<rect x="336" y="352" width="1" height="16" fill="#ff4500"/>
<rect x="340" y="330" width="1" height="31" fill="#ff0000"/>
<rect x="339" y="338" width="3" height="14" fill="#ff0000"/>
<rect x="340" y="339" width="1" height="12" fill="#ff4500"/>
<rect x="344" y="333" width="1" height="11" fill="#32cd32"/>
<rect x="343" y="338" width="3" height="3" fill="#32cd32"/>
<rect x="348" y="329" width="1" height="13" fill="#ff0000"/>
<rect x="347" y="331" width="3" height="10" fill="#ff0000"/>
<rect x="348" y="332" width="1" height="8" fill="#ff4500"/>
<rect x="352" y="330" width="1" height="16" fill="#32cd32"/>
<rect x="351" y="331" width="3" height="11" fill="#32cd32"/>
<rect x="356" y="335" width="1" height="20" fill="#32cd32"/>
<rect x="355" y="341" width="3" height="14" fill="#32cd32"/>
<rect x="360" y="337" width="1" height="27" fill="#32cd32"/>
<rect x="359" y="354" width="3" height="8" fill="#32cd32"/>
<rect x="364" y="338" width="1" height="25" fill="#ff0000"/>
<rect x="363" y="344" width="3" height="18" fill="#ff0000"/>
<rect x="364" y="345" width="1" height="16" fill="#ff4500"/>
<rect x="368" y="337" width="1" height="14" fill="#ff0000"/>
<rect x="367" y="338" width="3" height="7" fill="#ff0000"/>
<rect x="368" y="339" width="1" height="5" fill="#ff4500"/>
<rect x="372" y="303" width="1" height="39" fill="#ff0000"/>
<rect x="371" y="312" width="3" height="28" fill="#ff0000"/>
<rect x="372" y="313" width="1" height="26" fill="#ff4500"/>
<rect x="376" y="311" width="1" height="17" fill="#32cd32"/>
<rect x="375" y="312" width="3" height="16" fill="#32cd32"/>
<rect x="380" y="322" width="1" height="11" fill="#ff0000"/>
<rect x="379" y="324" width="3" height="3" fill="#ff0000"/>
<rect x="380" y="325" width="1" height="1" fill="#ff4500"/>
<rect x="384" y="309" width="1" height="29" fill="#ff0000"/>
<rect x="383" y="313" width="3" height="13" fill="#ff0000"/>
<rect x="384" y="314" width="1" height="11" fill="#ff4500"/>
<rect x="388" y="288" width="1" height="29" fill="#ff0000"/>
<rect x="387" y="288" width="3" height="25" fill="#ff0000"/>
<rect x="388" y="289" width="1" height="23" fill="#ff4500"/>
<rect x="392" y="289" width="1" height="23" fill="#32cd32"/>
<rect x="391" y="289" width="3" height="17" fill="#32cd32"/>
<rect x="396" y="305" width="1" height="27" fill="#32cd32"/>
<rect x="395" y="305" width="3" height="23" fill="#32cd32"/>
<rect x="400" y="319" width="1" height="13" fill="#ff0000"/>
<rect x="399" y="325" width="3" height="2" fill="#ff0000"/>
<rect x="404" y="323" width="1" height="7" fill="#32cd32"/>
<rect x="403" y="324" width="3" height="4" fill="#32cd32"/>
<rect x="408" y="309" width="1" height="23" fill="#ff0000"/>
<rect x="407" y="310" width="3" height="18" fill="#ff0000"/>
<rect x="408" y="311" width="1" height="16" fill="#ff4500"/>
<rect x="412" y="299" width="1" height="23" fill="#ff0000"/>
<rect x="411" y="305" width="3" height="5" fill="#ff0000"/>
<rect x="412" y="306" width="1" height="3" fill="#ff4500"/>
<rect x="416" y="305" width="1" height="26" fill="#32cd32"/>
<rect x="415" y="305" width="3" height="21" fill="#32cd32"/>
<rect x="420" y="317" width="1" height="9" fill="#ff0000"/>
<rect x="419" y="319" width="3" height="6" fill="#ff0000"/>
<rect x="420" y="320" width="1" height="4" fill="#ff4500"/>
<rect x="424" y="309" width="1" height="16" fill="#ff0000"/>
<rect x="423" y="311" width="3" height="9" fill="#ff0000"/>
<rect x="424" y="312" width="1" height="7" fill="#ff4500"/>
<rect x="428" y="309" width="1" height="8" fill="#32cd32"/>
<rect x="427" y="311" width="3" height="2" fill="#32cd32"/>
<rect x="432" y="304" width="1" height="13" fill="#ff0000"/>
<rect x="431" y="310" width="3" height="4" fill="#ff0000"/>
<rect x="432" y="311" width="1" height="2" fill="#ff4500"/>
<rect x="436" y="283" width="1" height="32" fill="#ff0000"/>
<rect x="435" y="284" width="3" height="29" fill="#ff0000"/>
<rect x="436" y="285" width="1" height="27" fill="#ff4500"/>
<rect x="440" y="284" width="1" height="33" fill="#32cd32"/>
<rect x="439" y="285" width="3" height="29" fill="#32cd32"/>
<rect x="444" y="312" width="1" height="14" fill="#32cd32"/>
<rect x="443" y="313" width="3" height="9" fill="#32cd32"/>
<rect x="448" y="311" width="1" height="20" fill="#32cd32"/>
<rect x="447" y="314" width="3" height="13" fill="#32cd32"/>
<rect x="452" y="319" width="1" height="11" fill="#ff0000"/>
<rect x="451" y="321" width="3" height="7" fill="#ff0000"/>
<rect x="452" y="322" width="1" height="5" fill="#ff4500"/>
<rect x="456" y="309" width="1" height="17" fill="#ff0000"/>
<rect x="455" y="314" width="3" height="7" fill="#ff0000"/>
<rect x="456" y="315" width="1" height="5" fill="#ff4500"/>
<rect x="460" y="313" width="1" height="33" fill="#32cd32"/>
<rect x="459" y="314" width="3" height="12" fill="#32cd32"/>
<rect x="464" y="314" width="1" height="13" fill="#ff0000"/>
<rect x="463" y="315" width="3" height="11" fill="#ff0000"/>
<rect x="464" y="316" width="1" height="9" fill="#ff4500"/>
<rect x="468" y="315" width="1" height="16" fill="#32cd32"/>
<rect x="467" y="315" width="3" height="12" fill="#32cd32"/>
<rect x="472" y="322" width="1" height="12" fill="#32cd32"/>
<rect x="471" y="326" width="3" height="8" fill="#32cd32"/>
<rect x="476" y="328" width="1" height="14" fill="#ff0000"/>
<rect x="475" y="329" width="3" height="5" fill="#ff0000"/>
<rect x="476" y="330" width="1" height="3" fill="#ff4500"/>
<rect x="480" y="327" width="1" height="21" fill="#32cd32"/>
<rect x="479" y="329" width="3" height="12" fill="#32cd32"/>
<rect x="484" y="336" width="1" height="31" fill="#32cd32"/>
<rect x="483" y="340" width="3" height="16" fill="#32cd32"/>
<rect x="488" y="337" width="1" height="27" fill="#ff0000"/>
<rect x="487" y="342" width="3" height="13" fill="#ff0000"/>
<rect x="488" y="343" width="1" height="11" fill="#ff4500"/>
<rect x="492" y="340" width="1" height="14" fill="#32cd32"/>
<rect x="491" y="342" width="3" height="6" fill="#32cd32"/>
<rect x="496" y="341" width="1" height="10" fill="#ff0000"/>
<rect x="495" y="342" width="3" height="6" fill="#ff0000"/>
<rect x="496" y="343" width="1" height="4" fill="#ff4500"/>
<rect x="500" y="339" width="1" height="13" fill="#32cd32"/>
<rect x="499" y="342" width="3" height="9" fill="#32cd32"/>
<rect x="504" y="340" width="1" height="21" fill="#32cd32"/>
<rect x="503" y="350" width="3" height="4" fill="#32cd32"/>
<rect x="508" y="351" width="1" height="26" fill="#32cd32"/>
<rect x="507" y="353" width="3" height="17" fill="#32cd32"/>
<rect x="512" y="369" width="1" height="25" fill="#32cd32"/>
<rect x="511" y="369" width="3" height="23" fill="#32cd32"/>
<rect x="516" y="380" width="1" height="14" fill="#ff0000"/>
<rect x="515" y="382" width="3" height="10" fill="#ff0000"/>
<rect x="516" y="383" width="1" height="8" fill="#ff4500"/>
<rect x="520" y="380" width="1" height="12" fill="#32cd32"/>
<rect x="519" y="382" width="3" height="7" fill="#32cd32"/>
<rect x="524" y="388" width="1" height="12" fill="#32cd32"/>
<rect x="523" y="388" width="3" height="8" fill="#32cd32"/>
<rect x="528" y="381" width="1" height="20" fill="#ff0000"/>
<rect x="527" y="386" width="3" height="10" fill="#ff0000"/>
<rect x="528" y="387" width="1" height="8" fill="#ff4500"/>
<rect x="532" y="360" width="1" height="31" fill="#ff0000"/>
<rect x="531" y="366" width="3" height="21" fill="#ff0000"/>
<rect x="532" y="367" width="1" height="19" fill="#ff4500"/>
<rect x="536" y="364" width="1" height="28" fill="#32cd32"/>
<rect x="535" y="366" width="3" height="19" fill="#32cd32"/>
<rect x="540" y="381" width="1" height="17" fill="#32cd32"/>
<rect x="539" y="385" width="3" height="7" fill="#32cd32"/>
<rect x="544" y="388" width="1" height="10" fill="#32cd32"/>
<rect x="543" y="392" width="3" height="4" fill="#32cd32"/>
<rect x="548" y="391" width="1" height="7" fill="#32cd32"/>
<rect x="547" y="395" width="3" height="2" fill="#32cd32"/>
<rect x="552" y="395" width="1" height="19" fill="#32cd32"/>
<rect x="551" y="397" width="3" height="16" fill="#32cd32"/>
<rect x="556" y="382" width="1" height="44" fill="#ff0000"/>
<rect x="555" y="394" width="3" height="20" fill="#ff0000"/>
<rect x="556" y="395" width="1" height="18" fill="#ff4500"/>
<rect x="560" y="389" width="1" height="19" fill="#ff0000"/>
<rect x="559" y="392" width="3" height="3" fill="#ff0000"/>
<rect x="560" y="393" width="1" height="1" fill="#ff4500"/>
<rect x="564" y="369" width="1" height="31" fill="#ff0000"/>
<rect x="563" y="374" width="3" height="18" fill="#ff0000"/>
<rect x="564" y="375" width="1" height="16" fill="#ff4500"/>
<rect x="568" y="379" width="1" height="10" fill="#32cd32"/>
<rect x="567" y="380" width="3" height="7" fill="#32cd32"/>
<rect x="572" y="375" width="1" height="13" fill="#ff0000"/>
<rect x="571" y="378" width="3" height="9" fill="#ff0000"/>
<rect x="572" y="379" width="1" height="7" fill="#ff4500"/>
<rect x="576" y="364" width="1" height="23" fill="#ff0000"/>
<rect x="575" y="366" width="3" height="13" fill="#ff0000"/>
<rect x="576" y="367" width="1" height="11" fill="#ff4500"/>
<rect x="580" y="363" width="1" height="23" fill="#32cd32"/>
<rect x="579" y="367" width="3" height="13" fill="#32cd32"/>
<rect x="584" y="375" width="1" height="6" fill="#ff0000"/>
<rect x="583" y="376" width="3" height="4" fill="#ff0000"/>
<rect x="584" y="377" width="1" height="2" fill="#ff4500"/>
<rect x="588" y="373" width="1" height="5" fill="#ff0000"/>
<rect x="587" y="375" width="3" height="2" fill="#ff0000"/>
<rect x="592" y="373" width="1" height="10" fill="#ff0000"/>
<rect x="591" y="375" width="3" height="5" fill="#ff0000"/>
<rect x="592" y="376" width="1" height="3" fill="#ff4500"/>
<rect x="596" y="361" width="1" height="16" fill="#ff0000"/>
<rect x="595" y="362" width="3" height="15" fill="#ff0000"/>
<rect x="596" y="363" width="1" height="13" fill="#ff4500"/>
<rect x="600" y="351" width="1" height="55" fill="#32cd32"/>
<rect x="599" y="362" width="3" height="37" fill="#32cd32"/>
<rect x="604" y="392" width="1" height="21" fill="#32cd32"/>
<rect x="603" y="398" width="3" height="7" fill="#32cd32"/>
<rect x="608" y="395" width="1" height="26" fill="#32cd32"/>
<rect x="607" y="404" width="3" height="14" fill="#32cd32"/>
<rect x="612" y="408" width="1" height="18" fill="#ff0000"/>
<rect x="611" y="413" width="3" height="5" fill="#ff0000"/>
<rect x="612" y="414" width="1" height="3" fill="#ff4500"/>
<rect x="616" y="410" width="1" height="10" fill="#ff0000"/>
<rect x="615" y="412" width="3" height="2" fill="#ff0000"/>
<rect x="620" y="403" width="1" height="13" fill="#ff0000"/>
<rect x="619" y="406" width="3" height="6" fill="#ff0000"/>
<rect x="620" y="407" width="1" height="4" fill="#ff4500"/>
<rect x="624" y="405" width="1" height="17" fill="#32cd32"/>
<rect x="623" y="406" width="3" height="2" fill="#32cd32"/>
<rect x="628" y="401" width="1" height="32" fill="#32cd32"/>
<rect x="627" y="407" width="3" height="22" fill="#32cd32"/>
<rect x="632" y="427" width="1" height="21" fill="#32cd32"/>
<rect x="631" y="427" width="3" height="3" fill="#32cd32"/>
<rect x="636" y="415" width="1" height="24" fill="#32cd32"/>
<rect x="635" y="429" width="3" height="7" fill="#32cd32"/>
<rect x="640" y="432" width="1" height="14" fill="#32cd32"/>
<rect x="639" y="436" width="3" height="9" fill="#32cd32"/>
<rect x="644" y="426" width="1" height="20" fill="#ff0000"/>
<rect x="643" y="427" width="3" height="18" fill="#ff0000"/>
<rect x="644" y="428" width="1" height="16" fill="#ff4500"/>
<rect x="648" y="402" width="1" height="37" fill="#ff0000"/>
<rect x="647" y="403" width="3" height="24" fill="#ff0000"/>
<rect x="648" y="404" width="1" height="22" fill="#ff4500"/>
<rect x="652" y="377" width="1" height="35" fill="#ff0000"/>
<rect x="651" y="383" width="3" height="20" fill="#ff0000"/>
<rect x="652" y="384" width="1" height="18" fill="#ff4500"/>
<rect x="656" y="374" width="1" height="28" fill="#32cd32"/>
<rect x="655" y="383" width="3" height="16" fill="#32cd32"/>
<rect x="660" y="391" width="1" height="12" fill="#ff0000"/>
<rect x="659" y="391" width="3" height="8" fill="#ff0000"/>
<rect x="660" y="392" width="1" height="6" fill="#ff4500"/>
<rect x="664" y="389" width="1" height="13" fill="#32cd32"/>
<rect x="663" y="391" width="3" height="8" fill="#32cd32"/>
<rect x="668" y="397" width="1" height="9" fill="#32cd32"/>
<rect x="667" y="398" width="3" height="5" fill="#32cd32"/>
<rect x="672" y="385" width="1" height="27" fill="#ff0000"/>
<rect x="671" y="385" width="3" height="18" fill="#ff0000"/>
<rect x="672" y="386" width="1" height="16" fill="#ff4500"/>
<rect x="676" y="372" width="1" height="14" fill="#ff0000"/>
<rect x="675" y="376" width="3" height="9" fill="#ff0000"/>
<rect x="676" y="377" width="1" height="7" fill="#ff4500"/>
<rect x="680" y="368" width="1" height="18" fill="#32cd32"/>
<rect x="679" y="375" width="3" height="7" fill="#32cd32"/>
<rect x="684" y="366" width="1" height="16" fill="#ff0000"/>
<rect x="683" y="367" width="3" height="15" fill="#ff0000"/>
<rect x="684" y="368" width="1" height="13" fill="#ff4500"/>
<rect x="688" y="364" width="1" height="10" fill="#32cd32"/>
<rect x="687" y="367" width="3" height="5" fill="#32cd32"/>
<rect x="692" y="370" width="1" height="15" fill="#32cd32"/>
<rect x="691" y="371" width="3" height="8" fill="#32cd32"/>
<rect x="696" y="364" width="1" height="33" fill="#32cd32"/>
<rect x="695" y="379" width="3" height="15" fill="#32cd32"/>
<rect x="700" y="369" width="1" height="33" fill="#ff0000"/>
<rect x="699" y="375" width="3" height="19" fill="#ff0000"/>
<rect x="700" y="376" width="1" height="17" fill="#ff4500"/>
<rect x="704" y="373" width="1" height="16" fill="#32cd32"/>
<rect x="703" y="375" width="3" height="10" fill="#32cd32"/>
<rect x="708" y="380" width="1" height="9" fill="#ff0000"/>
<rect x="707" y="381" width="3" height="4" fill="#ff0000"/>
<rect x="708" y="382" width="1" height="2" fill="#ff4500"/>
<rect x="712" y="373" width="1" height="10" fill="#ff0000"/>
<rect x="711" y="374" width="3" height="8" fill="#ff0000"/>
<rect x="712" y="375" width="1" height="6" fill="#ff4500"/>
<rect x="716" y="368" width="1" height="17" fill="#32cd32"/>
<rect x="715" y="374" width="3" height="8" fill="#32cd32"/>
<rect x="720" y="376" width="1" height="26" fill="#32cd32"/>
<rect x="719" y="382" width="3" height="15" fill="#32cd32"/>
<rect x="724" y="389" width="1" height="49" fill="#32cd32"/>
<rect x="723" y="396" width="3" height="19" fill="#32cd32"/>
<rect x="728" y="404" width="1" height="21" fill="#32cd32"/>
<rect x="727" y="414" width="3" height="8" fill="#32cd32"/>
<rect x="732" y="418" width="1" height="38" fill="#32cd32"/>
<rect x="731" y="421" width="3" height="33" fill="#32cd32"/>
<rect x="736" y="446" width="1" height="10" fill="#ff0000"/>
<rect x="735" y="448" width="3" height="6" fill="#ff0000"/>
<rect x="736" y="449" width="1" height="4" fill="#ff4500"/>
<rect x="740" y="440" width="1" height="11" fill="#ff0000"/>
<rect x="739" y="441" width="3" height="7" fill="#ff0000"/>
<rect x="740" y="442" width="1" height="5" fill="#ff4500"/>
<rect x="744" y="432" width="1" height="21" fill="#ff0000"/>
<rect x="743" y="437" width="3" height="5" fill="#ff0000"/>
<rect x="744" y="438" width="1" height="3" fill="#ff4500"/>
<rect x="748" y="408" width="1" height="32" fill="#ff0000"/>
<rect x="747" y="413" width="3" height="25" fill="#ff0000"/>
<rect x="748" y="414" width="1" height="23" fill="#ff4500"/>
<rect x="752" y="408" width="1" height="13" fill="#ff0000"/>
<rect x="751" y="409" width="3" height="5" fill="#ff0000"/>
<rect x="752" y="410" width="1" height="3" fill="#ff4500"/>
<rect x="756" y="399" width="1" height="13" fill="#ff0000"/>
<rect x="755" y="402" width="3" height="9" fill="#ff0000"/>
<rect x="756" y="403" width="1" height="7" fill="#ff4500"/>
<rect x="760" y="398" width="1" height="14" fill="#32cd32"/>
<rect x="759" y="401" width="3" height="10" fill="#32cd32"/>
<rect x="764" y="395" width="1" height="19" fill="#ff0000"/>
<rect x="763" y="396" width="3" height="15" fill="#ff0000"/>
<rect x="764" y="397" width="1" height="13" fill="#ff4500"/>
<rect x="768" y="389" width="1" height="22" fill="#ff0000"/>
<rect x="767" y="395" width="3" height="2" fill="#ff0000"/>
<rect x="772" y="394" width="1" height="34" fill="#32cd32"/>
<rect x="771" y="395" width="3" height="24" fill="#32cd32"/>
<rect x="776" y="412" width="1" height="16" fill="#32cd32"/>
<rect x="775" y="418" width="3" height="9" fill="#32cd32"/>
<rect x="780" y="421" width="1" height="15" fill="#ff0000"/>
<rect x="779" y="421" width="3" height="7" fill="#ff0000"/>
<rect x="780" y="422" width="1" height="5" fill="#ff4500"/>
<rect x="784" y="417" width="1" height="14" fill="#32cd32"/>
<rect x="783" y="421" width="3" height="10" fill="#32cd32"/>
<rect x="788" y="420" width="1" height="11" fill="#ff0000"/>
<rect x="787" y="423" width="3" height="7" fill="#ff0000"/>
<rect x="788" y="424" width="1" height="5" fill="#ff4500"/>
<rect x="792" y="413" width="1" height="21" fill="#ff0000"/>
<rect x="791" y="415" width="3" height="9" fill="#ff0000"/>
<rect x="792" y="416" width="1" height="7" fill="#ff4500"/>
<rect x="796" y="415" width="1" height="23" fill="#32cd32"/>
<rect x="795" y="415" width="3" height="16" fill="#32cd32"/>
<rect x="800" y="422" width="1" height="14" fill="#ff0000"/>
<rect x="799" y="424" width="3" height="6" fill="#ff0000"/>
<rect x="800" y="425" width="1" height="4" fill="#ff4500"/>
<rect x="804" y="416" width="1" height="14" fill="#32cd32"/>
<rect x="803" y="423" width="3" height="2" fill="#32cd32"/>
<rect x="808" y="420" width="1" height="14" fill="#32cd32"/>
<rect x="807" y="422" width="3" height="8" fill="#32cd32"/>
<rect x="812" y="424" width="1" height="11" fill="#32cd32"/>
<rect x="811" y="429" width="3" height="5" fill="#32cd32"/>
<rect x="816" y="433" width="1" height="29" fill="#32cd32"/>
<rect x="815" y="434" width="3" height="19" fill="#32cd32"/>
<rect x="820" y="411" width="1" height="51" fill="#ff0000"/>
<rect x="819" y="427" width="3" height="26" fill="#ff0000"/>
<rect x="820" y="428" width="1" height="24" fill="#ff4500"/>
<rect x="824" y="423" width="1" height="13" fill="#32cd32"/>
<rect x="823" y="426" width="3" height="1" fill="#32cd32"/>
<rect x="828" y="426" width="1" height="14" fill="#32cd32"/>
<rect x="827" y="426" width="3" height="8" fill="#32cd32"/>
<rect x="832" y="431" width="1" height="10" fill="#32cd32"/>
<rect x="831" y="434" width="3" height="1" fill="#32cd32"/>
<rect x="836" y="430" width="1" height="18" fill="#32cd32"/>
<rect x="835" y="434" width="3" height="12" fill="#32cd32"/>
<rect x="840" y="429" width="1" height="27" fill="#ff0000"/>
<rect x="839" y="430" width="3" height="16" fill="#ff0000"/>
<rect x="840" y="431" width="1" height="14" fill="#ff4500"/>
<rect x="844" y="432" width="1" height="38" fill="#32cd32"/>
<rect x="843" y="432" width="3" height="29" fill="#32cd32"/>
<rect x="848" y="448" width="1" height="22" fill="#ff0000"/>
<rect x="847" y="453" width="3" height="7" fill="#ff0000"/>
<rect x="848" y="454" width="1" height="5" fill="#ff4500"/>
<rect x="852" y="443" width="1" height="14" fill="#ff0000"/>
<rect x="851" y="447" width="3" height="7" fill="#ff0000"/>
<rect x="852" y="448" width="1" height="5" fill="#ff4500"/>
<rect x="856" y="446" width="1" height="8" fill="#32cd32"/>
<rect x="855" y="447" width="3" height="6" fill="#32cd32"/>
<rect x="860" y="451" width="1" height="10" fill="#32cd32"/>
<rect x="859" y="453" width="3" height="8" fill="#32cd32"/>
<rect x="864" y="447" width="1" height="25" fill="#ff0000"/>
<rect x="863" y="454" width="3" height="7" fill="#ff0000"/>
<rect x="864" y="455" width="1" height="5" fill="#ff4500"/>
<rect x="868" y="441" width="1" height="25" fill="#ff0000"/>
<rect x="867" y="442" width="3" height="12" fill="#ff0000"/>
<rect x="868" y="443" width="1" height="10" fill="#ff4500"/>
<rect x="872" y="429" width="1" height="18" fill="#ff0000"/>
<rect x="871" y="433" width="3" height="10" fill="#ff0000"/>
<rect x="872" y="434" width="1" height="8" fill="#ff4500"/>
<rect x="876" y="428" width="1" height="14" fill="#ff0000"/>
<rect x="875" y="430" width="3" height="4" fill="#ff0000"/>
<rect x="876" y="431" width="1" height="2" fill="#ff4500"/>
<rect x="880" y="432" width="1" height="12" fill="#32cd32"/>
<rect x="879" y="432" width="3" height="4" fill="#32cd32"/>
<rect x="884" y="431" width="1" height="10" fill="#32cd32"/>
<rect x="883" y="435" width="3" height="4" fill="#32cd32"/>
<rect x="888" y="430" width="1" height="20" fill="#ff0000"/>
<rect x="887" y="436" width="3" height="2" fill="#ff0000"/>
<rect x="892" y="406" width="1" height="51" fill="#ff0000"/>
<rect x="891" y="418" width="3" height="19" fill="#ff0000"/>
<rect x="892" y="419" width="1" height="17" fill="#ff4500"/>
<rect x="896" y="417" width="1" height="46" fill="#32cd32"/>
<rect x="895" y="418" width="3" height="42" fill="#32cd32"/>
<rect x="900" y="452" width="1" height="17" fill="#ff0000"/>
<rect x="899" y="457" width="3" height="4" fill="#ff0000"/>
<rect x="900" y="458" width="1" height="2" fill="#ff4500"/>
<rect x="904" y="448" width="1" height="13" fill="#ff0000"/>
<rect x="903" y="453" width="3" height="5" fill="#ff0000"/>
<rect x="904" y="454" width="1" height="3" fill="#ff4500"/>
<rect x="908" y="452" width="1" height="11" fill="#32cd32"/>
<rect x="907" y="453" width="3" height="9" fill="#32cd32"/>
<rect x="912" y="443" width="1" height="22" fill="#ff0000"/>
<rect x="911" y="458" width="3" height="5" fill="#ff0000"/>
<rect x="912" y="459" width="1" height="3" fill="#ff4500"/>
<rect x="916" y="448" width="1" height="23" fill="#32cd32"/>
<rect x="915" y="458" width="3" height="4" fill="#32cd32"/>
<rect x="920" y="460" width="1" height="11" fill="#32cd32"/>
<rect x="919" y="461" width="3" height="6" fill="#32cd32"/>
<rect x="924" y="454" width="1" height="12" fill="#ff0000"/>
<rect x="923" y="456" width="3" height="10" fill="#ff0000"/>
<rect x="924" y="457" width="1" height="8" fill="#ff4500"/>
</g>
<g class="cr">
<rect x="5" y="42" width="223" height="61" fill="#ffffff"/>
<rect x="7" y="68" width="109" height="33" fill="url(#gp)"/>
<rect x="7" y="44" width="52" height="25" fill="url(#gt)"/>
<rect x="118" y="68" width="108" height="33" fill="url(#gp)"/>
<rect x="174" y="44" width="52" height="25" fill="url(#gt)"/>
<rect x="7" y="44" width="52" height="1" fill="#0000b4"/>
<rect x="7" y="44" width="1" height="57" fill="#0000b4"/>
<rect x="7" y="100" width="109" height="1" fill="#0000b4"/>
<rect x="115" y="68" width="1" height="33" fill="#0000b4"/>
<rect x="58" y="44" width="1" height="24" fill="#0000b4"/>
<rect x="58" y="68" width="58" height="1" fill="#0000b4"/>
<rect x="118" y="68" width="1" height="33" fill="#0000b4"/>
<rect x="118" y="100" width="108" height="1" fill="#0000b4"/>
<rect x="225" y="44" width="1" height="57" fill="#0000b4"/>
<rect x="174" y="44" width="52" height="1" fill="#0000b4"/>
<rect x="174" y="44" width="1" height="24" fill="#0000b4"/>
<rect x="118" y="68" width="57" height="1" fill="#0000b4"/>
<rect x="11" y="67" width="44" height="1" fill="#00008b"/>
<rect x="11" y="68" width="44" height="1" fill="#7070ff"/>
<rect x="178" y="67" width="44" height="1" fill="#00008b"/>
<rect x="178" y="68" width="44" height="1" fill="#7070ff"/>
<rect x="61" y="44" width="111" height="22" fill="#adadb2"/>
<rect x="62" y="45" width="109" height="20" fill="#ffffff"/>
<rect x="63" y="46" width="18" height="18" fill="url(#gb)"/>
<rect x="82" y="45" width="1" height="20" fill="#adadb2"/>
<rect x="152" y="46" width="18" height="18" fill="url(#gb)"/>
<rect x="150" y="45" width="1" height="20" fill="#adadb2"/>
</g>
<path d="M68.8 53 L74.4 53 L71.6 56.4 Z" fill="#3f5ac8"/>
<path d="M157.8 56.2 L163.4 56.2 L160.6 52.8 Z" fill="#3f5ac8"/>
<text x="19.6" y="59.8" font-size="12.6" fill="#ffffff" textLength="25.2" lengthAdjust="spacingAndGlyphs">SELL</text>
<text x="187.7" y="59.8" font-size="12.6" fill="#ffffff" textLength="22.2" lengthAdjust="spacingAndGlyphs">BUY</text>
<text x="123.4" y="59" font-size="12.4" fill="#101010" textLength="22.6" lengthAdjust="spacingAndGlyphs">3.00</text>
<text x="27.4" y="95.9" font-size="13" fill="#ffffff" textLength="22.9" lengthAdjust="spacingAndGlyphs" font-weight="bold">1.17</text>
<text x="137.4" y="95.9" font-size="13" fill="#ffffff" textLength="22.9" lengthAdjust="spacingAndGlyphs" font-weight="bold">1.17</text>
<text x="54.4" y="95.9" font-size="35" fill="#ffffff" textLength="35.4" lengthAdjust="spacingAndGlyphs" stroke="url(#gp)" stroke-width="0.6">70</text>
<text x="165.8" y="95.9" font-size="35" fill="#ffffff" textLength="35.4" lengthAdjust="spacingAndGlyphs" stroke="url(#gp)" stroke-width="0.6">71</text>
<text x="94.3" y="80.2" font-size="12.6" fill="#ffffff" textLength="7" lengthAdjust="spacingAndGlyphs" font-weight="bold">9</text>
<text x="204.9" y="80.2" font-size="12.6" fill="#ffffff" textLength="7" lengthAdjust="spacingAndGlyphs" font-weight="bold">9</text>
<path d="M7 35.2 L14 35.2 L10.5 31 Z" fill="#000"/>
<text x="19.3" y="35.8" font-size="9.9" fill="#000" textLength="53.4" lengthAdjust="spacingAndGlyphs" stroke="#000" stroke-width="0.15">EURUSD,H4</text>
<text x="79.7" y="35.8" font-size="9.9" fill="#000" textLength="140" lengthAdjust="spacingAndGlyphs" stroke="#000" stroke-width="0.15">1.17594 1.17731 1.17593 1.17706</text>
<g class="cr">
<rect x="1167" y="52" width="2" height="1" fill="#000"/>
<rect x="1167" y="85" width="2" height="1" fill="#000"/>
<rect x="1167" y="118" width="2" height="1" fill="#000"/>
<rect x="1167" y="151" width="2" height="1" fill="#000"/>
<rect x="1167" y="184" width="2" height="1" fill="#000"/>
<rect x="1167" y="217" width="2" height="1" fill="#000"/>
<rect x="1167" y="250" width="2" height="1" fill="#000"/>
<rect x="1167" y="283" width="2" height="1" fill="#000"/>
<rect x="1167" y="316" width="2" height="1" fill="#000"/>
<rect x="1167" y="349" width="2" height="1" fill="#000"/>
<rect x="1167" y="382" width="2" height="1" fill="#000"/>
<rect x="1167" y="415" width="2" height="1" fill="#000"/>
<rect x="1167" y="448" width="2" height="1" fill="#000"/>
<rect x="1167" y="481" width="2" height="1" fill="#000"/>
</g>
<text x="1172.4" y="56" font-size="9.9" fill="#000" textLength="32.3" lengthAdjust="spacingAndGlyphs" stroke="#000" stroke-width="0.15">1.22480</text>
<text x="1172.4" y="89" font-size="9.9" fill="#000" textLength="32.3" lengthAdjust="spacingAndGlyphs" stroke="#000" stroke-width="0.15">1.22090</text>
<text x="1172.4" y="122" font-size="9.9" fill="#000" textLength="32.3" lengthAdjust="spacingAndGlyphs" stroke="#000" stroke-width="0.15">1.21700</text>
<text x="1172.4" y="155" font-size="9.9" fill="#000" textLength="32.3" lengthAdjust="spacingAndGlyphs" stroke="#000" stroke-width="0.15">1.21310</text>
<text x="1172.4" y="188" font-size="9.9" fill="#000" textLength="32.3" lengthAdjust="spacingAndGlyphs" stroke="#000" stroke-width="0.15">1.20920</text>
<text x="1172.4" y="221" font-size="9.9" fill="#000" textLength="32.3" lengthAdjust="spacingAndGlyphs" stroke="#000" stroke-width="0.15">1.20530</text>
<text x="1172.4" y="254" font-size="9.9" fill="#000" textLength="32.3" lengthAdjust="spacingAndGlyphs" stroke="#000" stroke-width="0.15">1.20140</text>
<text x="1172.4" y="287" font-size="9.9" fill="#000" textLength="32.3" lengthAdjust="spacingAndGlyphs" stroke="#000" stroke-width="0.15">1.19750</text>
<text x="1172.4" y="320" font-size="9.9" fill="#000" textLength="32.3" lengthAdjust="spacingAndGlyphs" stroke="#000" stroke-width="0.15">1.19360</text>
<text x="1172.4" y="353" font-size="9.9" fill="#000" textLength="32.3" lengthAdjust="spacingAndGlyphs" stroke="#000" stroke-width="0.15">1.18970</text>
<text x="1172.4" y="386" font-size="9.9" fill="#000" textLength="32.3" lengthAdjust="spacingAndGlyphs" stroke="#000" stroke-width="0.15">1.18580</text>
<text x="1172.4" y="419" font-size="9.9" fill="#000" textLength="32.3" lengthAdjust="spacingAndGlyphs" stroke="#000" stroke-width="0.15">1.18190</text>
<text x="1172.4" y="452" font-size="9.9" fill="#000" textLength="32.3" lengthAdjust="spacingAndGlyphs" stroke="#000" stroke-width="0.15">1.17800</text>
<text x="1172.4" y="485" font-size="9.9" fill="#000" textLength="32.3" lengthAdjust="spacingAndGlyphs" stroke="#000" stroke-width="0.15">1.17410</text>
<g class="cr">
<rect x="1168" y="170" width="37" height="11" fill="#ff0000"/>
<rect x="1168" y="255" width="37" height="11" fill="#ff0000"/>
<rect x="1168" y="340" width="37" height="11" fill="#00ff00"/>
<rect x="1168" y="424" width="37" height="11" fill="#0000ff"/>
<rect x="1168" y="452" width="37" height="11" fill="#000000"/>
</g>
<text x="1172.4" y="179.2" font-size="9.9" fill="#fff" textLength="32.3" lengthAdjust="spacingAndGlyphs">1.21010</text>
<text x="1172.4" y="264.2" font-size="9.9" fill="#fff" textLength="32.3" lengthAdjust="spacingAndGlyphs">1.20008</text>
<text x="1172.4" y="349.2" font-size="9.9" fill="#fff" textLength="32.3" lengthAdjust="spacingAndGlyphs">1.19007</text>
<text x="1172.4" y="433.2" font-size="9.9" fill="#fff" textLength="32.3" lengthAdjust="spacingAndGlyphs">1.18016</text>
<text x="1172.4" y="461.2" font-size="9.9" fill="#fff" textLength="32.3" lengthAdjust="spacingAndGlyphs">1.17706</text>
<g class="cr" clip-path="url(#cd)">
<rect x="3" y="492" width="3" height="8" fill="#c0c0c0"/>
<rect x="7" y="492" width="3" height="8" fill="#c0c0c0"/>
<rect x="11" y="494" width="3" height="6" fill="#c0c0c0"/>
<rect x="15" y="494" width="3" height="6" fill="#c0c0c0"/>
<rect x="19" y="496" width="3" height="4" fill="#c0c0c0"/>
<rect x="23" y="496" width="3" height="4" fill="#c0c0c0"/>
<rect x="27" y="498" width="3" height="2" fill="#c0c0c0"/>
<rect x="31" y="498" width="3" height="2" fill="#c0c0c0"/>
<rect x="35" y="498" width="3" height="2" fill="#c0c0c0"/>
<rect x="39" y="499" width="3" height="1" fill="#c0c0c0"/>
<rect x="43" y="500" width="3" height="2" fill="#c0c0c0"/>
<rect x="47" y="500" width="3" height="3" fill="#c0c0c0"/>
<rect x="51" y="500" width="3" height="8" fill="#c0c0c0"/>
<rect x="55" y="500" width="3" height="12" fill="#c0c0c0"/>
<rect x="59" y="500" width="3" height="16" fill="#c0c0c0"/>
<rect x="63" y="500" width="3" height="20" fill="#c0c0c0"/>
<rect x="67" y="500" width="3" height="23" fill="#c0c0c0"/>
<rect x="71" y="500" width="3" height="25" fill="#c0c0c0"/>
<rect x="75" y="500" width="3" height="20" fill="#c0c0c0"/>
<rect x="79" y="500" width="3" height="18" fill="#c0c0c0"/>
<rect x="83" y="500" width="3" height="16" fill="#c0c0c0"/>
<rect x="87" y="500" width="3" height="15" fill="#c0c0c0"/>
<rect x="91" y="500" width="3" height="14" fill="#c0c0c0"/>
<rect x="95" y="500" width="3" height="13" fill="#c0c0c0"/>
<rect x="99" y="500" width="3" height="10" fill="#c0c0c0"/>
<rect x="103" y="500" width="3" height="7" fill="#c0c0c0"/>
<rect x="107" y="500" width="3" height="5" fill="#c0c0c0"/>
<rect x="111" y="500" width="3" height="3" fill="#c0c0c0"/>
<rect x="115" y="500" width="3" height="2" fill="#c0c0c0"/>
<rect x="119" y="500" width="3" height="2" fill="#c0c0c0"/>
<rect x="123" y="500" width="3" height="2" fill="#c0c0c0"/>
<rect x="127" y="500" width="3" height="2" fill="#c0c0c0"/>
<rect x="131" y="500" width="3" height="2" fill="#c0c0c0"/>
<rect x="135" y="500" width="3" height="1" fill="#c0c0c0"/>
<rect x="139" y="500" width="3" height="1" fill="#c0c0c0"/>
<rect x="143" y="500" width="3" height="1" fill="#c0c0c0"/>
<rect x="147" y="500" width="3" height="1" fill="#c0c0c0"/>
<rect x="151" y="500" width="3" height="1" fill="#c0c0c0"/>
<rect x="155" y="500" width="3" height="1" fill="#c0c0c0"/>
<rect x="159" y="500" width="3" height="1" fill="#c0c0c0"/>
<rect x="163" y="500" width="3" height="1" fill="#c0c0c0"/>
<rect x="167" y="500" width="3" height="2" fill="#c0c0c0"/>
<rect x="171" y="500" width="3" height="2" fill="#c0c0c0"/>
<rect x="175" y="500" width="3" height="2" fill="#c0c0c0"/>
<rect x="179" y="500" width="3" height="2" fill="#c0c0c0"/>
<rect x="183" y="500" width="3" height="1" fill="#c0c0c0"/>
<rect x="187" y="500" width="3" height="1" fill="#c0c0c0"/>
<rect x="191" y="500" width="3" height="2" fill="#c0c0c0"/>
<rect x="195" y="500" width="3" height="6" fill="#c0c0c0"/>
<rect x="199" y="500" width="3" height="10" fill="#c0c0c0"/>
<rect x="203" y="500" width="3" height="15" fill="#c0c0c0"/>
<rect x="207" y="500" width="3" height="17" fill="#c0c0c0"/>
<rect x="211" y="500" width="3" height="18" fill="#c0c0c0"/>
<rect x="215" y="500" width="3" height="18" fill="#c0c0c0"/>
<rect x="219" y="500" width="3" height="18" fill="#c0c0c0"/>
<rect x="223" y="500" width="3" height="17" fill="#c0c0c0"/>
<rect x="227" y="500" width="3" height="16" fill="#c0c0c0"/>
<rect x="231" y="500" width="3" height="16" fill="#c0c0c0"/>
<rect x="235" y="500" width="3" height="15" fill="#c0c0c0"/>
<rect x="239" y="500" width="3" height="14" fill="#c0c0c0"/>
<rect x="243" y="500" width="3" height="14" fill="#c0c0c0"/>
<rect x="247" y="500" width="3" height="13" fill="#c0c0c0"/>
<rect x="251" y="500" width="3" height="12" fill="#c0c0c0"/>
<rect x="255" y="500" width="3" height="11" fill="#c0c0c0"/>
<rect x="259" y="500" width="3" height="10" fill="#c0c0c0"/>
<rect x="263" y="500" width="3" height="10" fill="#c0c0c0"/>
<rect x="267" y="500" width="3" height="10" fill="#c0c0c0"/>
<rect x="271" y="500" width="3" height="11" fill="#c0c0c0"/>
<rect x="275" y="500" width="3" height="18" fill="#c0c0c0"/>
<rect x="279" y="500" width="3" height="25" fill="#c0c0c0"/>
<rect x="283" y="500" width="3" height="31" fill="#c0c0c0"/>
<rect x="287" y="500" width="3" height="38" fill="#c0c0c0"/>
<rect x="291" y="500" width="3" height="45" fill="#c0c0c0"/>
<rect x="295" y="500" width="3" height="52" fill="#c0c0c0"/>
<rect x="299" y="500" width="3" height="57" fill="#c0c0c0"/>
<rect x="303" y="500" width="3" height="60" fill="#c0c0c0"/>
<rect x="307" y="500" width="3" height="62" fill="#c0c0c0"/>
<rect x="311" y="500" width="3" height="62" fill="#c0c0c0"/>
<rect x="315" y="500" width="3" height="65" fill="#c0c0c0"/>
<rect x="319" y="500" width="3" height="66" fill="#c0c0c0"/>
<rect x="323" y="500" width="3" height="67" fill="#c0c0c0"/>
<rect x="327" y="500" width="3" height="67" fill="#c0c0c0"/>
<rect x="331" y="500" width="3" height="65" fill="#c0c0c0"/>
<rect x="335" y="500" width="3" height="62" fill="#c0c0c0"/>
<rect x="339" y="500" width="3" height="57" fill="#c0c0c0"/>
<rect x="343" y="500" width="3" height="53" fill="#c0c0c0"/>
<rect x="347" y="500" width="3" height="48" fill="#c0c0c0"/>
<rect x="351" y="500" width="3" height="45" fill="#c0c0c0"/>
<rect x="355" y="500" width="3" height="43" fill="#c0c0c0"/>
<rect x="359" y="500" width="3" height="42" fill="#c0c0c0"/>
<rect x="363" y="500" width="3" height="40" fill="#c0c0c0"/>
<rect x="367" y="500" width="3" height="36" fill="#c0c0c0"/>
<rect x="371" y="500" width="3" height="30" fill="#c0c0c0"/>
<rect x="375" y="500" width="3" height="27" fill="#c0c0c0"/>
<rect x="379" y="500" width="3" height="24" fill="#c0c0c0"/>
<rect x="383" y="500" width="3" height="20" fill="#c0c0c0"/>
<rect x="387" y="500" width="3" height="15" fill="#c0c0c0"/>
<rect x="391" y="500" width="3" height="12" fill="#c0c0c0"/>
<rect x="395" y="500" width="3" height="11" fill="#c0c0c0"/>
<rect x="399" y="500" width="3" height="10" fill="#c0c0c0"/>
<rect x="403" y="500" width="3" height="10" fill="#c0c0c0"/>
<rect x="407" y="500" width="3" height="8" fill="#c0c0c0"/>
<rect x="411" y="500" width="3" height="6" fill="#c0c0c0"/>
<rect x="415" y="500" width="3" height="6" fill="#c0c0c0"/>
<rect x="419" y="500" width="3" height="5" fill="#c0c0c0"/>
<rect x="423" y="500" width="3" height="4" fill="#c0c0c0"/>
<rect x="427" y="500" width="3" height="4" fill="#c0c0c0"/>
<rect x="431" y="500" width="3" height="2" fill="#c0c0c0"/>
<rect x="435" y="499" width="3" height="1" fill="#c0c0c0"/>
<rect x="439" y="499" width="3" height="1" fill="#c0c0c0"/>
<rect x="443" y="500" width="3" height="1" fill="#c0c0c0"/>
<rect x="447" y="500" width="3" height="2" fill="#c0c0c0"/>
<rect x="451" y="500" width="3" height="2" fill="#c0c0c0"/>
<rect x="455" y="500" width="3" height="2" fill="#c0c0c0"/>
<rect x="459" y="500" width="3" height="2" fill="#c0c0c0"/>
<rect x="463" y="500" width="3" height="3" fill="#c0c0c0"/>
<rect x="467" y="500" width="3" height="3" fill="#c0c0c0"/>
<rect x="471" y="500" width="3" height="5" fill="#c0c0c0"/>
<rect x="475" y="500" width="3" height="5" fill="#c0c0c0"/>
<rect x="479" y="500" width="3" height="6" fill="#c0c0c0"/>
<rect x="483" y="500" width="3" height="9" fill="#c0c0c0"/>
<rect x="487" y="500" width="3" height="9" fill="#c0c0c0"/>
<rect x="491" y="500" width="3" height="9" fill="#c0c0c0"/>
<rect x="495" y="500" width="3" height="10" fill="#c0c0c0"/>
<rect x="499" y="500" width="3" height="11" fill="#c0c0c0"/>
<rect x="503" y="500" width="3" height="12" fill="#c0c0c0"/>
<rect x="507" y="500" width="3" height="14" fill="#c0c0c0"/>
<rect x="511" y="500" width="3" height="16" fill="#c0c0c0"/>
<rect x="515" y="500" width="3" height="19" fill="#c0c0c0"/>
<rect x="519" y="500" width="3" height="20" fill="#c0c0c0"/>
<rect x="523" y="500" width="3" height="22" fill="#c0c0c0"/>
<rect x="527" y="500" width="3" height="21" fill="#c0c0c0"/>
<rect x="531" y="500" width="3" height="19" fill="#c0c0c0"/>
<rect x="535" y="500" width="3" height="20" fill="#c0c0c0"/>
<rect x="539" y="500" width="3" height="21" fill="#c0c0c0"/>
<rect x="543" y="500" width="3" height="20" fill="#c0c0c0"/>
<rect x="547" y="500" width="3" height="21" fill="#c0c0c0"/>
<rect x="551" y="500" width="3" height="23" fill="#c0c0c0"/>
<rect x="555" y="500" width="3" height="21" fill="#c0c0c0"/>
<rect x="559" y="500" width="3" height="19" fill="#c0c0c0"/>
<rect x="563" y="500" width="3" height="18" fill="#c0c0c0"/>
<rect x="567" y="500" width="3" height="16" fill="#c0c0c0"/>
<rect x="571" y="500" width="3" height="15" fill="#c0c0c0"/>
<rect x="575" y="500" width="3" height="12" fill="#c0c0c0"/>
<rect x="579" y="500" width="3" height="10" fill="#c0c0c0"/>
<rect x="583" y="500" width="3" height="9" fill="#c0c0c0"/>
<rect x="587" y="500" width="3" height="8" fill="#c0c0c0"/>
<rect x="591" y="500" width="3" height="8" fill="#c0c0c0"/>
<rect x="595" y="500" width="3" height="6" fill="#c0c0c0"/>
<rect x="599" y="500" width="3" height="7" fill="#c0c0c0"/>
<rect x="603" y="500" width="3" height="9" fill="#c0c0c0"/>
<rect x="607" y="500" width="3" height="11" fill="#c0c0c0"/>
<rect x="611" y="500" width="3" height="13" fill="#c0c0c0"/>
<rect x="615" y="500" width="3" height="14" fill="#c0c0c0"/>
<rect x="619" y="500" width="3" height="14" fill="#c0c0c0"/>
<rect x="623" y="500" width="3" height="14" fill="#c0c0c0"/>
<rect x="627" y="500" width="3" height="15" fill="#c0c0c0"/>
<rect x="631" y="500" width="3" height="17" fill="#c0c0c0"/>
<rect x="635" y="500" width="3" height="18" fill="#c0c0c0"/>
<rect x="639" y="500" width="3" height="20" fill="#c0c0c0"/>
<rect x="643" y="500" width="3" height="20" fill="#c0c0c0"/>
<rect x="647" y="500" width="3" height="16" fill="#c0c0c0"/>
<rect x="651" y="500" width="3" height="13" fill="#c0c0c0"/>
<rect x="655" y="500" width="3" height="11" fill="#c0c0c0"/>
<rect x="659" y="500" width="3" height="8" fill="#c0c0c0"/>
<rect x="663" y="500" width="3" height="6" fill="#c0c0c0"/>
<rect x="667" y="500" width="3" height="6" fill="#c0c0c0"/>
<rect x="671" y="500" width="3" height="4" fill="#c0c0c0"/>
<rect x="675" y="500" width="3" height="1" fill="#c0c0c0"/>
<rect x="679" y="499" width="3" height="1" fill="#c0c0c0"/>
<rect x="683" y="496" width="3" height="4" fill="#c0c0c0"/>
<rect x="687" y="495" width="3" height="5" fill="#c0c0c0"/>
<rect x="691" y="494" width="3" height="6" fill="#c0c0c0"/>
<rect x="695" y="495" width="3" height="5" fill="#c0c0c0"/>
<rect x="699" y="494" width="3" height="6" fill="#c0c0c0"/>
<rect x="703" y="495" width="3" height="5" fill="#c0c0c0"/>
<rect x="707" y="495" width="3" height="5" fill="#c0c0c0"/>
<rect x="711" y="494" width="3" height="6" fill="#c0c0c0"/>
<rect x="715" y="494" width="3" height="6" fill="#c0c0c0"/>
<rect x="719" y="495" width="3" height="5" fill="#c0c0c0"/>
<rect x="723" y="499" width="3" height="1" fill="#c0c0c0"/>
<rect x="727" y="500" width="3" height="3" fill="#c0c0c0"/>
<rect x="731" y="500" width="3" height="8" fill="#c0c0c0"/>
<rect x="735" y="500" width="3" height="12" fill="#c0c0c0"/>
<rect x="739" y="500" width="3" height="13" fill="#c0c0c0"/>
<rect x="743" y="500" width="3" height="15" fill="#c0c0c0"/>
<rect x="747" y="500" width="3" height="13" fill="#c0c0c0"/>
<rect x="751" y="500" width="3" height="12" fill="#c0c0c0"/>
<rect x="755" y="500" width="3" height="9" fill="#c0c0c0"/>
<rect x="759" y="500" width="3" height="9" fill="#c0c0c0"/>
<rect x="763" y="500" width="3" height="6" fill="#c0c0c0"/>
<rect x="767" y="500" width="3" height="4" fill="#c0c0c0"/>
<rect x="771" y="500" width="3" height="4" fill="#c0c0c0"/>
<rect x="775" y="500" width="3" height="6" fill="#c0c0c0"/>
<rect x="779" y="500" width="3" height="8" fill="#c0c0c0"/>
<rect x="783" y="500" width="3" height="8" fill="#c0c0c0"/>
<rect x="787" y="500" width="3" height="8" fill="#c0c0c0"/>
<rect x="791" y="500" width="3" height="7" fill="#c0c0c0"/>
<rect x="795" y="500" width="3" height="8" fill="#c0c0c0"/>
<rect x="799" y="500" width="3" height="8" fill="#c0c0c0"/>
<rect x="803" y="500" width="3" height="8" fill="#c0c0c0"/>
<rect x="807" y="500" width="3" height="8" fill="#c0c0c0"/>
<rect x="811" y="500" width="3" height="8" fill="#c0c0c0"/>
<rect x="815" y="500" width="3" height="11" fill="#c0c0c0"/>
<rect x="819" y="500" width="3" height="10" fill="#c0c0c0"/>
<rect x="823" y="500" width="3" height="9" fill="#c0c0c0"/>
<rect x="827" y="500" width="3" height="9" fill="#c0c0c0"/>
<rect x="831" y="500" width="3" height="9" fill="#c0c0c0"/>
<rect x="835" y="500" width="3" height="10" fill="#c0c0c0"/>
<rect x="839" y="500" width="3" height="9" fill="#c0c0c0"/>
<rect x="843" y="500" width="3" height="11" fill="#c0c0c0"/>
<rect x="847" y="500" width="3" height="12" fill="#c0c0c0"/>
<rect x="851" y="500" width="3" height="12" fill="#c0c0c0"/>
<rect x="855" y="500" width="3" height="12" fill="#c0c0c0"/>
<rect x="859" y="500" width="3" height="13" fill="#c0c0c0"/>
<rect x="863" y="500" width="3" height="13" fill="#c0c0c0"/>
<rect x="867" y="500" width="3" height="12" fill="#c0c0c0"/>
<rect x="871" y="500" width="3" height="10" fill="#c0c0c0"/>
<rect x="875" y="500" width="3" height="8" fill="#c0c0c0"/>
<rect x="879" y="500" width="3" height="7" fill="#c0c0c0"/>
<rect x="883" y="500" width="3" height="6" fill="#c0c0c0"/>
<rect x="887" y="500" width="3" height="5" fill="#c0c0c0"/>
<rect x="891" y="500" width="3" height="3" fill="#c0c0c0"/>
<rect x="895" y="500" width="3" height="5" fill="#c0c0c0"/>
<rect x="899" y="500" width="3" height="6" fill="#c0c0c0"/>
<rect x="903" y="500" width="3" height="6" fill="#c0c0c0"/>
<rect x="907" y="500" width="3" height="8" fill="#c0c0c0"/>
<rect x="911" y="500" width="3" height="8" fill="#c0c0c0"/>
<rect x="915" y="500" width="3" height="9" fill="#c0c0c0"/>
<rect x="919" y="500" width="3" height="10" fill="#c0c0c0"/>
<rect x="923" y="500" width="3" height="9" fill="#c0c0c0"/>
<path d="M711 495.5h18M9 496.5h17M705 496.5h6M729 496.5h4M6 497.5h3M26 497.5h20M701 497.5h4M733 497.5h3M4 498.5h2M46 498.5h6M698 498.5h3M736 498.5h2M52 499.5h2M155 499.5h32M696 499.5h2M738 499.5h2M54 500.5h2M147 500.5h8M187 500.5h7M694 500.5h2M740 500.5h2M56 501.5h1M139 501.5h8M194 501.5h4M452 501.5h23M692 501.5h2M742 501.5h2M57 502.5h2M133 502.5h6M198 502.5h3M444 502.5h8M475 502.5h8M690 502.5h2M744 502.5h2M59 503.5h1M129 503.5h4M201 503.5h3M438 503.5h6M483 503.5h5M688 503.5h2M746 503.5h2M60 504.5h2M125 504.5h4M204 504.5h2M435 504.5h3M488 504.5h4M686 504.5h2M748 504.5h2M62 505.5h1M123 505.5h2M206 505.5h2M432 505.5h3M492 505.5h3M684 505.5h2M750 505.5h2M901 505.5h18M63 506.5h2M120 506.5h3M208 506.5h2M430 506.5h2M495 506.5h4M682 506.5h2M752 506.5h2M783 506.5h30M894 506.5h7M919 506.5h5M65 507.5h2M118 507.5h2M210 507.5h2M427 507.5h3M499 507.5h5M680 507.5h2M754 507.5h2M779 507.5h4M813 507.5h15M888 507.5h6M67 508.5h1M116 508.5h2M212 508.5h3M422 508.5h5M504 508.5h5M606 508.5h12M678 508.5h2M756 508.5h2M775 508.5h4M828 508.5h20M884 508.5h4M68 509.5h2M114 509.5h2M215 509.5h2M417 509.5h5M509 509.5h4M601 509.5h5M618 509.5h10M677 509.5h1M758 509.5h7M772 509.5h3M848 509.5h7M865 509.5h19M70 510.5h2M112 510.5h2M217 510.5h3M415 510.5h2M513 510.5h3M597 510.5h4M628 510.5h3M675 510.5h2M765 510.5h7M855 510.5h10M72 511.5h2M110 511.5h2M220 511.5h2M267 511.5h13M413 511.5h2M516 511.5h2M594 511.5h3M631 511.5h2M673 511.5h2M74 512.5h2M108 512.5h2M222 512.5h2M261 512.5h6M280 512.5h3M411 512.5h2M518 512.5h3M592 512.5h2M633 512.5h4M669 512.5h4M76 513.5h2M106 513.5h2M224 513.5h2M257 513.5h4M283 513.5h2M409 513.5h2M521 513.5h2M590 513.5h2M637 513.5h4M665 513.5h4M78 514.5h2M103 514.5h3M226 514.5h2M251 514.5h6M285 514.5h1M407 514.5h2M523 514.5h6M588 514.5h2M641 514.5h5M661 514.5h4M80 515.5h3M101 515.5h2M228 515.5h2M243 515.5h8M286 515.5h2M406 515.5h1M529 515.5h5M586 515.5h2M646 515.5h15M83 516.5h2M98 516.5h3M230 516.5h13M288 516.5h1M405 516.5h1M534 516.5h3M583 516.5h3M85 517.5h4M94 517.5h4M289 517.5h1M403 517.5h2M537 517.5h2M580 517.5h3M89 518.5h5M290 518.5h1M402 518.5h1M539 518.5h4M576 518.5h4M291 519.5h1M400 519.5h2M543 519.5h4M570 519.5h6M292 520.5h1M399 520.5h1M547 520.5h23M293 521.5h1M398 521.5h1M294 522.5h1M397 522.5h1M294 523.5h1M396 523.5h1M295 524.5h1M395 524.5h1M296 525.5h1M393 525.5h2M297 526.5h1M392 526.5h1M298 527.5h1M391 527.5h1M299 528.5h1M390 528.5h1M299 529.5h1M389 529.5h1M300 530.5h1M388 530.5h1M301 531.5h1M386 531.5h2M302 532.5h1M385 532.5h1M302 533.5h1M384 533.5h1M303 534.5h1M383 534.5h1M304 535.5h1M381 535.5h2M305 536.5h1M380 536.5h1M305 537.5h1M379 537.5h1M306 538.5h1M378 538.5h1M307 539.5h1M376 539.5h2M308 540.5h1M375 540.5h1M308 541.5h1M374 541.5h1M309 542.5h1M373 542.5h1M310 543.5h1M371 543.5h2M311 544.5h1M370 544.5h1M312 545.5h1M369 545.5h1M312 546.5h1M368 546.5h1M313 547.5h1M367 547.5h1M314 548.5h1M366 548.5h1M315 549.5h1M365 549.5h1M316 550.5h1M364 550.5h1M317 551.5h1M363 551.5h1M318 552.5h1M362 552.5h1M319 553.5h1M360 553.5h2M320 554.5h1M358 554.5h2M321 555.5h1M357 555.5h1M322 556.5h1M355 556.5h2M323 557.5h2M353 557.5h2M325 558.5h2M352 558.5h1M327 559.5h1M350 559.5h2M328 560.5h2M348 560.5h2M330 561.5h3M346 561.5h2M333 562.5h4M342 562.5h4M337 563.5h5" fill="none" stroke="#ff0000" stroke-width="1"/>
</g>
<text x="8.4" y="498.5" font-size="9.9" fill="#000" textLength="153" lengthAdjust="spacingAndGlyphs" stroke="#000" stroke-width="0.15">MACD(12,26,9) -0.000887 -0.000666</text>
<g class="cr">
<rect x="1167" y="500" width="2" height="1" fill="#000"/>
</g>
<text x="1170.7" y="497.5" font-size="9.9" fill="#000" textLength="38.0" lengthAdjust="spacingAndGlyphs" stroke="#000" stroke-width="0.15">0.001232</text>
<text x="1170.7" y="504" font-size="9.9" fill="#000" textLength="17.7" lengthAdjust="spacingAndGlyphs" stroke="#000" stroke-width="0.15">0.00</text>
<text x="1170.7" y="567.2" font-size="9.9" fill="#000" textLength="35.9" lengthAdjust="spacingAndGlyphs" stroke="#000" stroke-width="0.15">-0.00707</text>
<g class="cr" clip-path="url(#cs)">
<line x1="5" y1="599.5" x2="1166" y2="599.5" stroke="#c0c0c0" stroke-width="1" stroke-dasharray="3 3"/>
<line x1="5" y1="633.5" x2="1166" y2="633.5" stroke="#c0c0c0" stroke-width="1" stroke-dasharray="3 3"/>
<path d="M148 606.5h1M3 607.5h6M147 607.5h2M9 608.5h1M146 608.5h1M149 608.5h1M436 608.5h1M684 608.5h3M9 609.5h1M146 609.5h1M149 609.5h1M435 609.5h1M437 609.5h1M683 609.5h1M687 609.5h2M10 610.5h1M145 610.5h1M150 610.5h1M388 610.5h1M435 610.5h1M437 610.5h1M676 610.5h3M681 610.5h2M689 610.5h2M892 610.5h1M10 611.5h1M103 611.5h4M144 611.5h1M150 611.5h1M387 611.5h1M389 611.5h1M434 611.5h1M438 611.5h1M652 611.5h1M674 611.5h2M679 611.5h2M691 611.5h1M700 611.5h1M891 611.5h2M11 612.5h1M100 612.5h3M107 612.5h3M143 612.5h1M151 612.5h1M387 612.5h1M390 612.5h1M434 612.5h1M438 612.5h1M651 612.5h1M653 612.5h1M672 612.5h2M692 612.5h1M699 612.5h1M701 612.5h2M712 612.5h1M891 612.5h1M893 612.5h1M11 613.5h1M99 613.5h1M110 613.5h2M142 613.5h1M151 613.5h1M184 613.5h5M386 613.5h1M390 613.5h1M433 613.5h1M439 613.5h1M596 613.5h1M651 613.5h1M654 613.5h1M671 613.5h1M693 613.5h1M699 613.5h1M703 613.5h1M710 613.5h2M713 613.5h2M764 613.5h5M890 613.5h1M893 613.5h1M12 614.5h6M99 614.5h1M112 614.5h2M142 614.5h1M152 614.5h2M183 614.5h1M188 614.5h1M385 614.5h1M391 614.5h1M411 614.5h2M433 614.5h1M439 614.5h1M595 614.5h2M650 614.5h1M654 614.5h1M660 614.5h2M670 614.5h1M694 614.5h1M698 614.5h1M704 614.5h6M715 614.5h1M763 614.5h1M769 614.5h1M889 614.5h1M893 614.5h1M18 615.5h1M98 615.5h1M114 615.5h2M124 615.5h3M136 615.5h3M141 615.5h1M154 615.5h2M172 615.5h1M182 615.5h1M189 615.5h1M385 615.5h1M392 615.5h1M408 615.5h3M413 615.5h1M424 615.5h3M431 615.5h2M440 615.5h2M576 615.5h1M594 615.5h1M597 615.5h1M649 615.5h1M655 615.5h1M658 615.5h2M662 615.5h2M670 615.5h1M694 615.5h1M697 615.5h1M716 615.5h1M756 615.5h2M762 615.5h1M769 615.5h1M872 615.5h7M889 615.5h1M894 615.5h1M19 616.5h1M31 616.5h7M76 616.5h4M98 616.5h1M116 616.5h3M122 616.5h2M127 616.5h4M134 616.5h2M139 616.5h2M156 616.5h2M171 616.5h1M173 616.5h2M182 616.5h1M189 616.5h1M372 616.5h1M384 616.5h1M393 616.5h1M407 616.5h1M414 616.5h1M422 616.5h2M427 616.5h4M442 616.5h2M456 616.5h1M464 616.5h1M575 616.5h1M577 616.5h2M593 616.5h1M597 616.5h1M649 616.5h1M656 616.5h2M664 616.5h3M669 616.5h1M695 616.5h1M697 616.5h1M717 616.5h1M754 616.5h2M758 616.5h2M761 616.5h1M770 616.5h1M871 616.5h1M879 616.5h4M887 616.5h2M894 616.5h1M20 617.5h1M29 617.5h2M38 617.5h3M76 617.5h1M80 617.5h2M97 617.5h1M119 617.5h3M131 617.5h3M158 617.5h2M170 617.5h1M175 617.5h1M181 617.5h1M190 617.5h1M371 617.5h1M373 617.5h1M383 617.5h1M394 617.5h1M406 617.5h1M414 617.5h1M420 617.5h2M444 617.5h1M454 617.5h2M457 617.5h2M463 617.5h1M465 617.5h2M563 617.5h1M573 617.5h2M579 617.5h1M583 617.5h10M598 617.5h1M648 617.5h1M667 617.5h2M696 617.5h1M718 617.5h1M751 617.5h3M760 617.5h1M771 617.5h1M792 617.5h1M869 617.5h2M883 617.5h4M894 617.5h1M20 618.5h1M28 618.5h1M41 618.5h2M75 618.5h1M82 618.5h2M97 618.5h1M160 618.5h2M170 618.5h1M176 618.5h5M190 618.5h1M371 618.5h1M374 618.5h1M381 618.5h2M394 618.5h1M406 618.5h1M415 618.5h1M418 618.5h2M445 618.5h2M452 618.5h2M459 618.5h1M461 618.5h2M467 618.5h1M562 618.5h1M564 618.5h1M572 618.5h1M580 618.5h3M598 618.5h1M647 618.5h1M719 618.5h1M748 618.5h3M771 618.5h1M791 618.5h1M793 618.5h1M820 618.5h6M868 618.5h1M894 618.5h1M21 619.5h1M27 619.5h1M43 619.5h2M75 619.5h1M84 619.5h6M96 619.5h1M162 619.5h2M169 619.5h1M191 619.5h1M260 619.5h3M370 619.5h1M375 619.5h1M379 619.5h2M395 619.5h1M399 619.5h4M405 619.5h1M416 619.5h2M447 619.5h1M450 619.5h2M460 619.5h1M468 619.5h2M562 619.5h1M565 619.5h2M571 619.5h1M598 619.5h1M647 619.5h1M720 619.5h1M747 619.5h1M772 619.5h1M789 619.5h2M794 619.5h1M800 619.5h7M820 619.5h1M826 619.5h2M840 619.5h1M867 619.5h1M895 619.5h1M21 620.5h1M27 620.5h1M45 620.5h2M75 620.5h1M90 620.5h2M94 620.5h2M164 620.5h5M191 620.5h1M252 620.5h2M259 620.5h1M263 620.5h4M370 620.5h1M376 620.5h3M396 620.5h3M403 620.5h2M448 620.5h2M470 620.5h2M475 620.5h3M561 620.5h1M567 620.5h1M569 620.5h2M599 620.5h1M646 620.5h1M721 620.5h1M747 620.5h1M773 620.5h2M780 620.5h2M788 620.5h1M794 620.5h1M799 620.5h1M807 620.5h2M819 620.5h1M828 620.5h5M839 620.5h1M841 620.5h1M866 620.5h1M895 620.5h1M22 621.5h1M26 621.5h1M47 621.5h1M75 621.5h1M92 621.5h2M192 621.5h1M236 621.5h2M244 621.5h2M251 621.5h1M254 621.5h2M257 621.5h2M267 621.5h3M369 621.5h1M472 621.5h3M478 621.5h2M496 621.5h1M532 621.5h1M561 621.5h1M568 621.5h1M599 621.5h1M646 621.5h1M722 621.5h1M746 621.5h1M775 621.5h1M778 621.5h2M782 621.5h2M786 621.5h2M795 621.5h1M797 621.5h2M809 621.5h2M819 621.5h1M833 621.5h1M838 621.5h1M841 621.5h1M852 621.5h2M866 621.5h1M895 621.5h1M903 621.5h3M923 621.5h1M22 622.5h1M26 622.5h1M48 622.5h1M74 622.5h1M193 622.5h1M235 622.5h1M238 622.5h2M242 622.5h2M246 622.5h2M249 622.5h2M256 622.5h1M270 622.5h2M369 622.5h1M480 622.5h1M488 622.5h3M494 622.5h2M497 622.5h2M531 622.5h1M533 622.5h1M560 622.5h1M600 622.5h1M645 622.5h1M723 622.5h1M746 622.5h1M776 622.5h2M784 622.5h2M796 622.5h1M811 622.5h1M818 622.5h1M834 622.5h1M838 622.5h1M842 622.5h1M851 622.5h1M854 622.5h2M865 622.5h1M896 622.5h1M899 622.5h4M906 622.5h2M911 622.5h4M922 622.5h1M23 623.5h1M25 623.5h1M48 623.5h1M74 623.5h1M193 623.5h1M223 623.5h4M234 623.5h1M240 623.5h2M248 623.5h1M272 623.5h1M368 623.5h1M481 623.5h1M487 623.5h1M491 623.5h3M499 623.5h1M531 623.5h1M534 623.5h1M559 623.5h2M600 623.5h3M620 623.5h3M645 623.5h1M724 623.5h2M745 623.5h1M812 623.5h1M818 623.5h1M835 623.5h1M837 623.5h1M842 623.5h1M849 623.5h2M856 623.5h2M864 623.5h1M896 623.5h3M908 623.5h3M915 623.5h4M921 623.5h1M23 624.5h1M25 624.5h1M49 624.5h1M74 624.5h1M194 624.5h1M216 624.5h7M227 624.5h4M233 624.5h1M272 624.5h1M366 624.5h2M482 624.5h1M486 624.5h1M500 624.5h5M530 624.5h1M535 624.5h1M556 624.5h3M603 624.5h2M618 624.5h2M623 624.5h2M644 624.5h1M726 624.5h2M745 624.5h1M813 624.5h1M817 624.5h1M836 624.5h1M843 624.5h1M848 624.5h1M858 624.5h2M862 624.5h2M919 624.5h2M24 625.5h1M49 625.5h1M74 625.5h1M194 625.5h1M215 625.5h1M231 625.5h2M272 625.5h1M364 625.5h2M483 625.5h1M485 625.5h1M505 625.5h1M529 625.5h1M536 625.5h2M555 625.5h1M605 625.5h2M615 625.5h3M625 625.5h1M644 625.5h1M728 625.5h1M744 625.5h1M814 625.5h1M817 625.5h1M843 625.5h1M846 625.5h2M860 625.5h2M50 626.5h1M73 626.5h1M195 626.5h1M215 626.5h1M273 626.5h1M348 626.5h2M363 626.5h1M484 626.5h1M506 626.5h1M529 626.5h1M538 626.5h2M555 626.5h1M607 626.5h1M611 626.5h4M626 626.5h1M643 626.5h1M729 626.5h1M743 626.5h2M815 626.5h2M844 626.5h2M50 627.5h1M73 627.5h1M195 627.5h1M214 627.5h1M273 627.5h1M347 627.5h1M350 627.5h2M363 627.5h1M507 627.5h1M528 627.5h1M540 627.5h7M554 627.5h1M608 627.5h3M626 627.5h1M643 627.5h1M729 627.5h1M740 627.5h3M816 627.5h1M51 628.5h1M73 628.5h1M196 628.5h1M213 628.5h1M273 628.5h1M345 628.5h2M352 628.5h2M362 628.5h1M508 628.5h1M527 628.5h1M547 628.5h2M554 628.5h1M627 628.5h1M642 628.5h1M730 628.5h1M738 628.5h2M51 629.5h1M73 629.5h1M197 629.5h1M213 629.5h1M273 629.5h1M340 629.5h5M354 629.5h2M362 629.5h1M509 629.5h1M516 629.5h3M526 629.5h1M549 629.5h1M553 629.5h1M628 629.5h8M642 629.5h1M730 629.5h1M736 629.5h2M52 630.5h1M72 630.5h1M198 630.5h1M212 630.5h1M273 630.5h1M339 630.5h1M356 630.5h2M361 630.5h1M510 630.5h1M515 630.5h1M519 630.5h3M526 630.5h1M550 630.5h2M553 630.5h1M636 630.5h2M641 630.5h1M731 630.5h1M735 630.5h1M53 631.5h1M72 631.5h1M199 631.5h1M203 631.5h4M210 631.5h2M274 631.5h1M338 631.5h1M358 631.5h2M361 631.5h1M510 631.5h1M514 631.5h1M522 631.5h2M525 631.5h1M552 631.5h1M638 631.5h2M641 631.5h1M731 631.5h1M733 631.5h2M54 632.5h1M60 632.5h3M72 632.5h1M200 632.5h3M207 632.5h3M274 632.5h1M337 632.5h1M360 632.5h1M511 632.5h1M513 632.5h1M524 632.5h1M640 632.5h1M732 632.5h1M54 633.5h1M59 633.5h1M63 633.5h3M71 633.5h1M274 633.5h1M336 633.5h1M512 633.5h1M55 634.5h1M57 634.5h2M66 634.5h2M69 634.5h2M274 634.5h1M335 634.5h1M56 635.5h1M68 635.5h1M275 635.5h1M335 635.5h1M275 636.5h1M334 636.5h1M275 637.5h1M334 637.5h1M275 638.5h1M333 638.5h1M275 639.5h1M333 639.5h1M276 640.5h1M312 640.5h1M332 640.5h1M276 641.5h1M282 641.5h2M311 641.5h1M313 641.5h1M331 641.5h1M276 642.5h6M284 642.5h1M310 642.5h1M314 642.5h1M320 642.5h7M329 642.5h2M285 643.5h2M304 643.5h3M309 643.5h1M315 643.5h1M318 643.5h2M327 643.5h2M287 644.5h1M303 644.5h1M307 644.5h2M316 644.5h2M288 645.5h3M302 645.5h1M291 646.5h4M302 646.5h1M295 647.5h4M301 647.5h1M299 648.5h2" fill="none" stroke="#1e90ff" stroke-width="1"/>
</g>
<text x="8" y="584.2" font-size="9.9" fill="#000" textLength="67.5" lengthAdjust="spacingAndGlyphs" stroke="#000" stroke-width="0.15">RSI(14) 45.2275</text>
<g class="cr">
<rect x="1167" y="599" width="2" height="1" fill="#000"/>
<rect x="1167" y="633" width="2" height="1" fill="#000"/>
</g>
<text x="1170.7" y="583.4" font-size="9.9" fill="#000" textLength="15.2" lengthAdjust="spacingAndGlyphs" stroke="#000" stroke-width="0.15">100</text>
<text x="1170.7" y="603.4" font-size="9.9" fill="#000" textLength="10.1" lengthAdjust="spacingAndGlyphs" stroke="#000" stroke-width="0.15">70</text>
<text x="1170.7" y="636.6" font-size="9.9" fill="#000" textLength="10.1" lengthAdjust="spacingAndGlyphs" stroke="#000" stroke-width="0.15">30</text>
<text x="1170.7" y="656.2" font-size="9.9" fill="#000" textLength="5.1" lengthAdjust="spacingAndGlyphs" stroke="#000" stroke-width="0.15">0</text>
<g class="cr">
<rect x="4" y="660" width="1" height="3" fill="#000"/>
<rect x="68" y="660" width="1" height="3" fill="#000"/>
<rect x="132" y="660" width="1" height="3" fill="#000"/>
<rect x="196" y="660" width="1" height="3" fill="#000"/>
<rect x="260" y="660" width="1" height="3" fill="#000"/>
<rect x="324" y="660" width="1" height="3" fill="#000"/>
<rect x="388" y="660" width="1" height="3" fill="#000"/>
<rect x="452" y="660" width="1" height="3" fill="#000"/>
<rect x="516" y="660" width="1" height="3" fill="#000"/>
<rect x="580" y="660" width="1" height="3" fill="#000"/>
<rect x="644" y="660" width="1" height="3" fill="#000"/>
<rect x="708" y="660" width="1" height="3" fill="#000"/>
<rect x="772" y="660" width="1" height="3" fill="#000"/>
<rect x="836" y="660" width="1" height="3" fill="#000"/>
<rect x="900" y="660" width="1" height="3" fill="#000"/>
</g>
<text x="3.6" y="671.8" font-size="9.9" fill="#000" textLength="44.5" lengthAdjust="spacingAndGlyphs" stroke="#000" stroke-width="0.15">1 Jun 2021</text>
<text x="67.6" y="671.8" font-size="9.9" fill="#000" textLength="47.0" lengthAdjust="spacingAndGlyphs" stroke="#000" stroke-width="0.15">4 Jun 10:00</text>
<text x="131.6" y="671.8" font-size="9.9" fill="#000" textLength="47.0" lengthAdjust="spacingAndGlyphs" stroke="#000" stroke-width="0.15">9 Jun 00:00</text>
<text x="195.6" y="671.8" font-size="9.9" fill="#000" textLength="51.4" lengthAdjust="spacingAndGlyphs" stroke="#000" stroke-width="0.15">11 Jun 18:00</text>
<text x="259.6" y="671.8" font-size="9.9" fill="#000" textLength="52.0" lengthAdjust="spacingAndGlyphs" stroke="#000" stroke-width="0.15">16 Jun 10:00</text>
<text x="323.6" y="671.8" font-size="9.9" fill="#000" textLength="52.0" lengthAdjust="spacingAndGlyphs" stroke="#000" stroke-width="0.15">19 Jun 00:00</text>
<text x="387.6" y="671.8" font-size="9.9" fill="#000" textLength="52.0" lengthAdjust="spacingAndGlyphs" stroke="#000" stroke-width="0.15">23 Jun 18:00</text>
<text x="451.6" y="671.8" font-size="9.9" fill="#000" textLength="51.4" lengthAdjust="spacingAndGlyphs" stroke="#000" stroke-width="0.15">28 Jun 11:00</text>
<text x="515.6" y="671.8" font-size="9.9" fill="#000" textLength="44.0" lengthAdjust="spacingAndGlyphs" stroke="#000" stroke-width="0.15">1 Jul 00:00</text>
<text x="579.6" y="671.8" font-size="9.9" fill="#000" textLength="44.0" lengthAdjust="spacingAndGlyphs" stroke="#000" stroke-width="0.15">5 Jul 19:00</text>
<text x="643.6" y="671.8" font-size="9.9" fill="#000" textLength="44.0" lengthAdjust="spacingAndGlyphs" stroke="#000" stroke-width="0.15">8 Jul 10:00</text>
<text x="707.6" y="671.8" font-size="9.9" fill="#000" textLength="49.0" lengthAdjust="spacingAndGlyphs" stroke="#000" stroke-width="0.15">13 Jul 00:00</text>
<text x="771.6" y="671.8" font-size="9.9" fill="#000" textLength="49.0" lengthAdjust="spacingAndGlyphs" stroke="#000" stroke-width="0.15">15 Jul 18:00</text>
<text x="835.6" y="671.8" font-size="9.9" fill="#000" textLength="49.0" lengthAdjust="spacingAndGlyphs" stroke="#000" stroke-width="0.15">20 Jul 10:00</text>
<text x="899.6" y="671.8" font-size="9.9" fill="#000" textLength="49.0" lengthAdjust="spacingAndGlyphs" stroke="#000" stroke-width="0.15">23 Jul 00:00</text>
<g class="cr">
<rect x="0" y="680" width="1205" height="1" fill="#e3e3e3"/>
<rect x="0" y="681" width="1205" height="1" fill="#ffffff"/>
<rect x="0" y="682" width="1205" height="20" fill="#f0f0f0"/>
<rect x="0" y="702" width="1205" height="1" fill="#fbfbfb"/>
<rect x="0" y="682" width="1206" height="1" fill="#000"/>
<rect x="6" y="682" width="90" height="18" fill="#ffffff"/>
<rect x="5" y="682" width="1" height="19" fill="#000"/>
<rect x="96" y="682" width="1" height="19" fill="#000"/>
<rect x="5" y="700" width="92" height="1" fill="#000"/>
<rect x="0" y="683" width="1" height="18" fill="#696969"/>
<rect x="201" y="686" width="1" height="12" fill="#7a7a7a"/>
<rect x="289" y="686" width="1" height="12" fill="#7a7a7a"/>
<rect x="393" y="686" width="1" height="12" fill="#7a7a7a"/>
<rect x="497" y="686" width="1" height="12" fill="#7a7a7a"/>
<rect x="573" y="686" width="1" height="12" fill="#7a7a7a"/>
<rect x="641" y="686" width="1" height="12" fill="#7a7a7a"/>
<rect x="717" y="686" width="1" height="12" fill="#7a7a7a"/>
<rect x="809" y="686" width="1" height="12" fill="#7a7a7a"/>
<rect x="901" y="686" width="1" height="12" fill="#7a7a7a"/>
</g>
<text x="17.2" y="696.6" font-size="12.6" fill="#000" textLength="67.5" lengthAdjust="spacingAndGlyphs">EURUSD,H4</text>
<text x="107.8" y="696.6" font-size="12.6" fill="#6a6a6a" textLength="82.1" lengthAdjust="spacingAndGlyphs">AUDUSD,Daily</text>
<text x="210.2" y="696.6" font-size="12.6" fill="#6a6a6a" textLength="67.4" lengthAdjust="spacingAndGlyphs">USDCHF,H4</text>
<text x="299.8" y="696.6" font-size="12.6" fill="#6a6a6a" textLength="81.1" lengthAdjust="spacingAndGlyphs">USDCAD,Daily</text>
<text x="402.6" y="696.6" font-size="12.6" fill="#6a6a6a" textLength="83.2" lengthAdjust="spacingAndGlyphs">USDCNH,Daily</text>
<text x="508.0" y="696.6" font-size="12.6" fill="#6a6a6a" textLength="52.1" lengthAdjust="spacingAndGlyphs">UKOil,H1</text>
<text x="582.4" y="696.6" font-size="12.6" fill="#6a6a6a" textLength="46.9" lengthAdjust="spacingAndGlyphs">DJ30,H1</text>
<text x="652.3" y="696.6" font-size="12.6" fill="#6a6a6a" textLength="52.6" lengthAdjust="spacingAndGlyphs">USDX,H1</text>
<text x="727.9" y="696.6" font-size="12.6" fill="#6a6a6a" textLength="68.1" lengthAdjust="spacingAndGlyphs">XAUUSD,H1</text>
<text x="820.9" y="696.6" font-size="12.6" fill="#6a6a6a" textLength="67.1" lengthAdjust="spacingAndGlyphs">GBPUSD,H1</text>
<path d="M1185.3 687.6 L1185.3 694.4 L1181.8 691 Z" fill="#8a8a8a"/>
<path d="M1200.8 687.6 L1200.8 694.4 L1204.3 691 Z" fill="#8a8a8a"/>
</svg></body></html>
